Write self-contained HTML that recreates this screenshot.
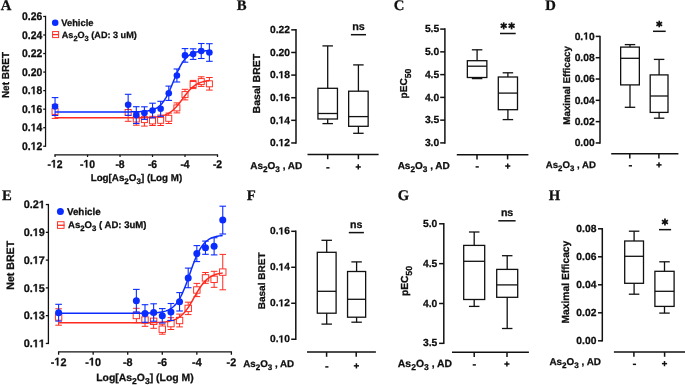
<!DOCTYPE html>
<html><head><meta charset="utf-8"><style>
html,body{margin:0;padding:0;background:#fff;width:685px;height:385px;overflow:hidden;}
svg{display:block;will-change:transform;}
</style></head><body>
<svg width="685" height="385" viewBox="0 0 685 385" xmlns="http://www.w3.org/2000/svg">
<rect width="685" height="385" fill="#fff"/>
<text x="0.67" y="9.92" font-family="Liberation Serif" font-weight="bold" font-size="14.700" fill="#111" text-rendering="geometricPrecision" stroke="#000" stroke-width="0.25">A</text>
<line x1="45.55" y1="15.82" x2="45.55" y2="146.88" stroke="#111" stroke-width="1.25" stroke-linecap="butt"/>
<line x1="43.20" y1="16.45" x2="45.55" y2="16.45" stroke="#111" stroke-width="1.25" stroke-linecap="butt"/>
<text transform="translate(22.06,20.06) scale(1.0,1.07)" font-family="Liberation Sans" font-weight="bold" font-size="10.40" text-anchor="start" fill="#111" text-rendering="geometricPrecision" stroke="#000" stroke-width="0.25" >0.26</text>
<line x1="43.20" y1="34.99" x2="45.55" y2="34.99" stroke="#111" stroke-width="1.25" stroke-linecap="butt"/>
<text transform="translate(22.06,38.60) scale(1.0,1.07)" font-family="Liberation Sans" font-weight="bold" font-size="10.40" text-anchor="start" fill="#111" text-rendering="geometricPrecision" stroke="#000" stroke-width="0.25" >0.24</text>
<line x1="43.20" y1="53.54" x2="45.55" y2="53.54" stroke="#111" stroke-width="1.25" stroke-linecap="butt"/>
<text transform="translate(22.06,57.14) scale(1.0,1.07)" font-family="Liberation Sans" font-weight="bold" font-size="10.40" text-anchor="start" fill="#111" text-rendering="geometricPrecision" stroke="#000" stroke-width="0.25" >0.22</text>
<line x1="43.20" y1="72.08" x2="45.55" y2="72.08" stroke="#111" stroke-width="1.25" stroke-linecap="butt"/>
<text transform="translate(22.06,75.68) scale(1.0,1.07)" font-family="Liberation Sans" font-weight="bold" font-size="10.40" text-anchor="start" fill="#111" text-rendering="geometricPrecision" stroke="#000" stroke-width="0.25" >0.20</text>
<line x1="43.20" y1="90.62" x2="45.55" y2="90.62" stroke="#111" stroke-width="1.25" stroke-linecap="butt"/>
<text transform="translate(22.06,94.23) scale(1.0,1.07)" font-family="Liberation Sans" font-weight="bold" font-size="10.40" text-anchor="start" fill="#111" text-rendering="geometricPrecision" stroke="#000" stroke-width="0.25" >0. 8</text>
<path transform="translate(30.732,94.228) scale(0.005078,-0.005434)" d="M478,0L478,1170L140,959L140,1180L493,1409L759,1409L759,0Z" fill="#111" stroke="#000" stroke-width="49.2"/>
<line x1="43.20" y1="109.16" x2="45.55" y2="109.16" stroke="#111" stroke-width="1.25" stroke-linecap="butt"/>
<text transform="translate(22.06,112.77) scale(1.0,1.07)" font-family="Liberation Sans" font-weight="bold" font-size="10.40" text-anchor="start" fill="#111" text-rendering="geometricPrecision" stroke="#000" stroke-width="0.25" >0. 6</text>
<path transform="translate(30.732,112.770) scale(0.005078,-0.005434)" d="M478,0L478,1170L140,959L140,1180L493,1409L759,1409L759,0Z" fill="#111" stroke="#000" stroke-width="49.2"/>
<line x1="43.20" y1="127.71" x2="45.55" y2="127.71" stroke="#111" stroke-width="1.25" stroke-linecap="butt"/>
<text transform="translate(22.06,131.31) scale(1.0,1.07)" font-family="Liberation Sans" font-weight="bold" font-size="10.40" text-anchor="start" fill="#111" text-rendering="geometricPrecision" stroke="#000" stroke-width="0.25" >0. 4</text>
<path transform="translate(30.732,131.313) scale(0.005078,-0.005434)" d="M478,0L478,1170L140,959L140,1180L493,1409L759,1409L759,0Z" fill="#111" stroke="#000" stroke-width="49.2"/>
<line x1="43.20" y1="146.25" x2="45.55" y2="146.25" stroke="#111" stroke-width="1.25" stroke-linecap="butt"/>
<text transform="translate(22.06,149.86) scale(1.0,1.07)" font-family="Liberation Sans" font-weight="bold" font-size="10.40" text-anchor="start" fill="#111" text-rendering="geometricPrecision" stroke="#000" stroke-width="0.25" >0. 2</text>
<path transform="translate(30.732,149.856) scale(0.005078,-0.005434)" d="M478,0L478,1170L140,959L140,1180L493,1409L759,1409L759,0Z" fill="#111" stroke="#000" stroke-width="49.2"/>
<line x1="54.42" y1="154.80" x2="218.12" y2="154.80" stroke="#111" stroke-width="1.25" stroke-linecap="butt"/>
<line x1="55.05" y1="154.80" x2="55.05" y2="157.00" stroke="#111" stroke-width="1.25" stroke-linecap="butt"/>
<text transform="translate(47.53,167.60) scale(1.0,1.07)" font-family="Liberation Sans" font-weight="bold" font-size="10.40" text-anchor="start" fill="#111" text-rendering="geometricPrecision" stroke="#000" stroke-width="0.25" >- 2</text>
<path transform="translate(50.998,167.600) scale(0.005078,-0.005434)" d="M478,0L478,1170L140,959L140,1180L493,1409L759,1409L759,0Z" fill="#111" stroke="#000" stroke-width="49.2"/>
<line x1="87.54" y1="154.80" x2="87.54" y2="157.00" stroke="#111" stroke-width="1.25" stroke-linecap="butt"/>
<text transform="translate(80.02,167.60) scale(1.0,1.07)" font-family="Liberation Sans" font-weight="bold" font-size="10.40" text-anchor="start" fill="#111" text-rendering="geometricPrecision" stroke="#000" stroke-width="0.25" >- 0</text>
<path transform="translate(83.488,167.600) scale(0.005078,-0.005434)" d="M478,0L478,1170L140,959L140,1180L493,1409L759,1409L759,0Z" fill="#111" stroke="#000" stroke-width="49.2"/>
<line x1="120.03" y1="154.80" x2="120.03" y2="157.00" stroke="#111" stroke-width="1.25" stroke-linecap="butt"/>
<text transform="translate(115.41,167.60) scale(1.0,1.07)" font-family="Liberation Sans" font-weight="bold" font-size="10.40" text-anchor="start" fill="#111" text-rendering="geometricPrecision" stroke="#000" stroke-width="0.25" >-8</text>
<line x1="152.52" y1="154.80" x2="152.52" y2="157.00" stroke="#111" stroke-width="1.25" stroke-linecap="butt"/>
<text transform="translate(147.90,167.60) scale(1.0,1.07)" font-family="Liberation Sans" font-weight="bold" font-size="10.40" text-anchor="start" fill="#111" text-rendering="geometricPrecision" stroke="#000" stroke-width="0.25" >-6</text>
<line x1="185.01" y1="154.80" x2="185.01" y2="157.00" stroke="#111" stroke-width="1.25" stroke-linecap="butt"/>
<text transform="translate(180.39,167.60) scale(1.0,1.07)" font-family="Liberation Sans" font-weight="bold" font-size="10.40" text-anchor="start" fill="#111" text-rendering="geometricPrecision" stroke="#000" stroke-width="0.25" >-4</text>
<line x1="217.50" y1="154.80" x2="217.50" y2="157.00" stroke="#111" stroke-width="1.25" stroke-linecap="butt"/>
<text transform="translate(212.88,167.60) scale(1.0,1.07)" font-family="Liberation Sans" font-weight="bold" font-size="10.40" text-anchor="start" fill="#111" text-rendering="geometricPrecision" stroke="#000" stroke-width="0.25" >-2</text>
<text x="90.68" y="181.24" font-family="Liberation Sans" font-weight="bold" font-size="9.796" fill="#111" text-rendering="geometricPrecision" stroke="#000" stroke-width="0.25">Log[As<tspan font-size="8.03" dy="3.13">2</tspan><tspan dy="-3.13">O</tspan><tspan font-size="8.03" dy="3.13">3</tspan><tspan dy="-3.13">] (Log M)</tspan></text>
<text transform="translate(8.56,98.11) rotate(-90) scale(1,1.0153435136478743)" font-family="Liberation Sans" font-weight="bold" font-size="10.016" fill="#111" text-rendering="geometricPrecision" stroke="#000" stroke-width="0.25">Net BRET</text>
<circle cx="55.20" cy="22.80" r="3.3" fill="#0a2cff"/>
<text x="61.24" y="25.69" font-family="Liberation Sans" font-weight="bold" font-size="9.360" fill="#111" text-rendering="geometricPrecision" stroke="#000" stroke-width="0.25">Vehicle</text>
<rect x="52.60" y="31.60" width="6.0" height="6.0" fill="none" stroke="#ff2a1f" stroke-width="0.95"/>
<line x1="52.60" y1="34.60" x2="58.60" y2="34.60" stroke="#ff2a1f" stroke-width="1.3" stroke-linecap="butt"/>
<text x="61.76" y="37.76" font-family="Liberation Sans" font-weight="bold" font-size="9.103" fill="#111" text-rendering="geometricPrecision" stroke="#000" stroke-width="0.25">As<tspan font-size="7.46" dy="2.91">2</tspan><tspan dy="-2.91">O</tspan><tspan font-size="7.46" dy="2.91">3</tspan><tspan dy="-2.91"> (AD: 3 uM)</tspan></text>
<line x1="55.05" y1="104.40" x2="55.05" y2="108.40" stroke="#ff2a1f" stroke-width="1.0" stroke-linecap="butt"/>
<line x1="55.05" y1="114.40" x2="55.05" y2="118.40" stroke="#ff2a1f" stroke-width="1.0" stroke-linecap="butt"/>
<line x1="51.75" y1="104.40" x2="58.35" y2="104.40" stroke="#ff2a1f" stroke-width="1.0" stroke-linecap="butt"/>
<line x1="51.75" y1="118.40" x2="58.35" y2="118.40" stroke="#ff2a1f" stroke-width="1.0" stroke-linecap="butt"/>
<line x1="128.15" y1="103.70" x2="128.15" y2="109.50" stroke="#ff2a1f" stroke-width="1.0" stroke-linecap="butt"/>
<line x1="128.15" y1="115.50" x2="128.15" y2="121.30" stroke="#ff2a1f" stroke-width="1.0" stroke-linecap="butt"/>
<line x1="124.85" y1="103.70" x2="131.45" y2="103.70" stroke="#ff2a1f" stroke-width="1.0" stroke-linecap="butt"/>
<line x1="124.85" y1="121.30" x2="131.45" y2="121.30" stroke="#ff2a1f" stroke-width="1.0" stroke-linecap="butt"/>
<line x1="136.28" y1="112.80" x2="136.28" y2="116.00" stroke="#ff2a1f" stroke-width="1.0" stroke-linecap="butt"/>
<line x1="136.28" y1="122.00" x2="136.28" y2="125.20" stroke="#ff2a1f" stroke-width="1.0" stroke-linecap="butt"/>
<line x1="132.97" y1="112.80" x2="139.58" y2="112.80" stroke="#ff2a1f" stroke-width="1.0" stroke-linecap="butt"/>
<line x1="132.97" y1="125.20" x2="139.58" y2="125.20" stroke="#ff2a1f" stroke-width="1.0" stroke-linecap="butt"/>
<line x1="144.40" y1="113.10" x2="144.40" y2="116.60" stroke="#ff2a1f" stroke-width="1.0" stroke-linecap="butt"/>
<line x1="144.40" y1="122.60" x2="144.40" y2="126.10" stroke="#ff2a1f" stroke-width="1.0" stroke-linecap="butt"/>
<line x1="141.10" y1="113.10" x2="147.70" y2="113.10" stroke="#ff2a1f" stroke-width="1.0" stroke-linecap="butt"/>
<line x1="141.10" y1="126.10" x2="147.70" y2="126.10" stroke="#ff2a1f" stroke-width="1.0" stroke-linecap="butt"/>
<line x1="152.52" y1="116.30" x2="152.52" y2="117.90" stroke="#ff2a1f" stroke-width="1.0" stroke-linecap="butt"/>
<line x1="152.52" y1="123.90" x2="152.52" y2="125.50" stroke="#ff2a1f" stroke-width="1.0" stroke-linecap="butt"/>
<line x1="149.22" y1="116.30" x2="155.82" y2="116.30" stroke="#ff2a1f" stroke-width="1.0" stroke-linecap="butt"/>
<line x1="149.22" y1="125.50" x2="155.82" y2="125.50" stroke="#ff2a1f" stroke-width="1.0" stroke-linecap="butt"/>
<line x1="160.64" y1="115.10" x2="160.64" y2="117.30" stroke="#ff2a1f" stroke-width="1.0" stroke-linecap="butt"/>
<line x1="160.64" y1="123.30" x2="160.64" y2="125.50" stroke="#ff2a1f" stroke-width="1.0" stroke-linecap="butt"/>
<line x1="157.34" y1="115.10" x2="163.94" y2="115.10" stroke="#ff2a1f" stroke-width="1.0" stroke-linecap="butt"/>
<line x1="157.34" y1="125.50" x2="163.94" y2="125.50" stroke="#ff2a1f" stroke-width="1.0" stroke-linecap="butt"/>
<line x1="168.76" y1="113.10" x2="168.76" y2="115.30" stroke="#ff2a1f" stroke-width="1.0" stroke-linecap="butt"/>
<line x1="168.76" y1="121.30" x2="168.76" y2="123.50" stroke="#ff2a1f" stroke-width="1.0" stroke-linecap="butt"/>
<line x1="165.46" y1="113.10" x2="172.06" y2="113.10" stroke="#ff2a1f" stroke-width="1.0" stroke-linecap="butt"/>
<line x1="165.46" y1="123.50" x2="172.06" y2="123.50" stroke="#ff2a1f" stroke-width="1.0" stroke-linecap="butt"/>
<line x1="176.89" y1="102.90" x2="176.89" y2="104.90" stroke="#ff2a1f" stroke-width="1.0" stroke-linecap="butt"/>
<line x1="176.89" y1="110.90" x2="176.89" y2="112.90" stroke="#ff2a1f" stroke-width="1.0" stroke-linecap="butt"/>
<line x1="173.59" y1="102.90" x2="180.19" y2="102.90" stroke="#ff2a1f" stroke-width="1.0" stroke-linecap="butt"/>
<line x1="173.59" y1="112.90" x2="180.19" y2="112.90" stroke="#ff2a1f" stroke-width="1.0" stroke-linecap="butt"/>
<line x1="185.01" y1="89.30" x2="185.01" y2="91.60" stroke="#ff2a1f" stroke-width="1.0" stroke-linecap="butt"/>
<line x1="185.01" y1="97.60" x2="185.01" y2="99.90" stroke="#ff2a1f" stroke-width="1.0" stroke-linecap="butt"/>
<line x1="181.71" y1="89.30" x2="188.31" y2="89.30" stroke="#ff2a1f" stroke-width="1.0" stroke-linecap="butt"/>
<line x1="181.71" y1="99.90" x2="188.31" y2="99.90" stroke="#ff2a1f" stroke-width="1.0" stroke-linecap="butt"/>
<line x1="193.13" y1="80.40" x2="193.13" y2="81.50" stroke="#ff2a1f" stroke-width="1.0" stroke-linecap="butt"/>
<line x1="193.13" y1="87.50" x2="193.13" y2="88.60" stroke="#ff2a1f" stroke-width="1.0" stroke-linecap="butt"/>
<line x1="189.83" y1="80.40" x2="196.43" y2="80.40" stroke="#ff2a1f" stroke-width="1.0" stroke-linecap="butt"/>
<line x1="189.83" y1="88.60" x2="196.43" y2="88.60" stroke="#ff2a1f" stroke-width="1.0" stroke-linecap="butt"/>
<line x1="201.25" y1="76.80" x2="201.25" y2="78.60" stroke="#ff2a1f" stroke-width="1.0" stroke-linecap="butt"/>
<line x1="201.25" y1="84.60" x2="201.25" y2="86.40" stroke="#ff2a1f" stroke-width="1.0" stroke-linecap="butt"/>
<line x1="197.95" y1="76.80" x2="204.56" y2="76.80" stroke="#ff2a1f" stroke-width="1.0" stroke-linecap="butt"/>
<line x1="197.95" y1="86.40" x2="204.56" y2="86.40" stroke="#ff2a1f" stroke-width="1.0" stroke-linecap="butt"/>
<line x1="209.38" y1="77.50" x2="209.38" y2="80.80" stroke="#ff2a1f" stroke-width="1.0" stroke-linecap="butt"/>
<line x1="209.38" y1="86.80" x2="209.38" y2="90.10" stroke="#ff2a1f" stroke-width="1.0" stroke-linecap="butt"/>
<line x1="206.08" y1="77.50" x2="212.68" y2="77.50" stroke="#ff2a1f" stroke-width="1.0" stroke-linecap="butt"/>
<line x1="206.08" y1="90.10" x2="212.68" y2="90.10" stroke="#ff2a1f" stroke-width="1.0" stroke-linecap="butt"/>
<polyline points="55.05,117.85 55.82,117.85 56.59,117.85 57.36,117.85 58.14,117.85 58.91,117.85 59.68,117.85 60.45,117.85 61.22,117.85 61.99,117.85 62.77,117.85 63.54,117.85 64.31,117.85 65.08,117.85 65.85,117.85 66.62,117.85 67.40,117.85 68.17,117.85 68.94,117.85 69.71,117.85 70.48,117.85 71.25,117.85 72.03,117.85 72.80,117.85 73.57,117.85 74.34,117.85 75.11,117.85 75.88,117.85 76.66,117.85 77.43,117.85 78.20,117.85 78.97,117.85 79.74,117.85 80.51,117.85 81.29,117.85 82.06,117.85 82.83,117.85 83.60,117.85 84.37,117.85 85.14,117.85 85.92,117.85 86.69,117.85 87.46,117.85 88.23,117.85 89.00,117.85 89.77,117.85 90.55,117.85 91.32,117.85 92.09,117.85 92.86,117.85 93.63,117.85 94.40,117.85 95.18,117.85 95.95,117.85 96.72,117.85 97.49,117.85 98.26,117.85 99.03,117.85 99.80,117.85 100.58,117.85 101.35,117.85 102.12,117.85 102.89,117.85 103.66,117.85 104.43,117.85 105.21,117.85 105.98,117.85 106.75,117.85 107.52,117.85 108.29,117.85 109.06,117.85 109.84,117.85 110.61,117.85 111.38,117.85 112.15,117.85 112.92,117.85 113.69,117.85 114.47,117.85 115.24,117.85 116.01,117.85 116.78,117.85 117.55,117.85 118.32,117.85 119.10,117.85 119.87,117.84 120.64,117.84 121.41,117.84 122.18,117.84 122.95,117.84 123.73,117.84 124.50,117.84 125.27,117.84 126.04,117.84 126.81,117.84 127.58,117.83 128.36,117.83 129.13,117.83 129.90,117.83 130.67,117.83 131.44,117.82 132.21,117.82 132.99,117.82 133.76,117.81 134.53,117.81 135.30,117.80 136.07,117.80 136.84,117.79 137.62,117.79 138.39,117.78 139.16,117.77 139.93,117.76 140.70,117.75 141.47,117.74 142.25,117.73 143.02,117.71 143.79,117.70 144.56,117.68 145.33,117.66 146.10,117.64 146.87,117.61 147.65,117.58 148.42,117.55 149.19,117.52 149.96,117.48 150.73,117.44 151.50,117.39 152.28,117.34 153.05,117.28 153.82,117.22 154.59,117.15 155.36,117.07 156.13,116.98 156.91,116.88 157.68,116.77 158.45,116.65 159.22,116.52 159.99,116.37 160.76,116.20 161.54,116.02 162.31,115.82 163.08,115.60 163.85,115.36 164.62,115.09 165.39,114.80 166.17,114.48 166.94,114.12 167.71,113.74 168.48,113.32 169.25,112.87 170.02,112.37 170.80,111.84 171.57,111.26 172.34,110.64 173.11,109.98 173.88,109.28 174.65,108.53 175.43,107.74 176.20,106.90 176.97,106.03 177.74,105.12 178.51,104.17 179.28,103.20 180.06,102.20 180.83,101.18 181.60,100.14 182.37,99.10 183.14,98.06 183.91,97.02 184.69,95.99 185.46,94.98 186.23,93.99 187.00,93.03 187.77,92.09 188.54,91.20 189.31,90.34 190.09,89.52 190.86,88.75 191.63,88.01 192.40,87.32 193.17,86.68 193.94,86.08 194.72,85.52 195.49,85.00 196.26,84.52 197.03,84.08 197.80,83.68 198.57,83.30 199.35,82.96 200.12,82.65 200.89,82.37 201.66,82.11 202.43,81.88 203.20,81.67 203.98,81.47 204.75,81.30 205.52,81.14 206.29,81.00 207.06,80.87 207.83,80.75 208.61,80.65 209.38,80.56" fill="none" stroke="#ff2a1f" stroke-width="1.5"/>
<rect x="52.05" y="108.40" width="6.0" height="6.0" fill="none" stroke="#ff2a1f" stroke-width="0.95"/>
<rect x="125.15" y="109.50" width="6.0" height="6.0" fill="none" stroke="#ff2a1f" stroke-width="0.95"/>
<rect x="133.28" y="116.00" width="6.0" height="6.0" fill="none" stroke="#ff2a1f" stroke-width="0.95"/>
<rect x="141.40" y="116.60" width="6.0" height="6.0" fill="none" stroke="#ff2a1f" stroke-width="0.95"/>
<rect x="149.52" y="117.90" width="6.0" height="6.0" fill="none" stroke="#ff2a1f" stroke-width="0.95"/>
<rect x="157.64" y="117.30" width="6.0" height="6.0" fill="none" stroke="#ff2a1f" stroke-width="0.95"/>
<rect x="165.76" y="115.30" width="6.0" height="6.0" fill="none" stroke="#ff2a1f" stroke-width="0.95"/>
<rect x="173.89" y="104.90" width="6.0" height="6.0" fill="none" stroke="#ff2a1f" stroke-width="0.95"/>
<rect x="182.01" y="91.60" width="6.0" height="6.0" fill="none" stroke="#ff2a1f" stroke-width="0.95"/>
<rect x="190.13" y="81.50" width="6.0" height="6.0" fill="none" stroke="#ff2a1f" stroke-width="0.95"/>
<rect x="198.25" y="78.60" width="6.0" height="6.0" fill="none" stroke="#ff2a1f" stroke-width="0.95"/>
<rect x="206.38" y="80.80" width="6.0" height="6.0" fill="none" stroke="#ff2a1f" stroke-width="0.95"/>
<line x1="55.05" y1="97.60" x2="55.05" y2="115.50" stroke="#0a2cff" stroke-width="1.1" stroke-linecap="butt"/>
<line x1="51.75" y1="97.60" x2="58.35" y2="97.60" stroke="#0a2cff" stroke-width="1.1" stroke-linecap="butt"/>
<line x1="51.75" y1="115.50" x2="58.35" y2="115.50" stroke="#0a2cff" stroke-width="1.1" stroke-linecap="butt"/>
<line x1="128.15" y1="94.30" x2="128.15" y2="115.30" stroke="#0a2cff" stroke-width="1.1" stroke-linecap="butt"/>
<line x1="124.85" y1="94.30" x2="131.45" y2="94.30" stroke="#0a2cff" stroke-width="1.1" stroke-linecap="butt"/>
<line x1="124.85" y1="115.30" x2="131.45" y2="115.30" stroke="#0a2cff" stroke-width="1.1" stroke-linecap="butt"/>
<line x1="136.28" y1="106.70" x2="136.28" y2="123.50" stroke="#0a2cff" stroke-width="1.1" stroke-linecap="butt"/>
<line x1="132.97" y1="106.70" x2="139.58" y2="106.70" stroke="#0a2cff" stroke-width="1.1" stroke-linecap="butt"/>
<line x1="132.97" y1="123.50" x2="139.58" y2="123.50" stroke="#0a2cff" stroke-width="1.1" stroke-linecap="butt"/>
<line x1="144.40" y1="106.80" x2="144.40" y2="119.40" stroke="#0a2cff" stroke-width="1.1" stroke-linecap="butt"/>
<line x1="141.10" y1="106.80" x2="147.70" y2="106.80" stroke="#0a2cff" stroke-width="1.1" stroke-linecap="butt"/>
<line x1="141.10" y1="119.40" x2="147.70" y2="119.40" stroke="#0a2cff" stroke-width="1.1" stroke-linecap="butt"/>
<line x1="152.52" y1="103.20" x2="152.52" y2="117.80" stroke="#0a2cff" stroke-width="1.1" stroke-linecap="butt"/>
<line x1="149.22" y1="103.20" x2="155.82" y2="103.20" stroke="#0a2cff" stroke-width="1.1" stroke-linecap="butt"/>
<line x1="149.22" y1="117.80" x2="155.82" y2="117.80" stroke="#0a2cff" stroke-width="1.1" stroke-linecap="butt"/>
<line x1="160.64" y1="101.30" x2="160.64" y2="116.30" stroke="#0a2cff" stroke-width="1.1" stroke-linecap="butt"/>
<line x1="157.34" y1="101.30" x2="163.94" y2="101.30" stroke="#0a2cff" stroke-width="1.1" stroke-linecap="butt"/>
<line x1="157.34" y1="116.30" x2="163.94" y2="116.30" stroke="#0a2cff" stroke-width="1.1" stroke-linecap="butt"/>
<line x1="168.76" y1="86.10" x2="168.76" y2="100.40" stroke="#0a2cff" stroke-width="1.1" stroke-linecap="butt"/>
<line x1="165.46" y1="86.10" x2="172.06" y2="86.10" stroke="#0a2cff" stroke-width="1.1" stroke-linecap="butt"/>
<line x1="165.46" y1="100.40" x2="172.06" y2="100.40" stroke="#0a2cff" stroke-width="1.1" stroke-linecap="butt"/>
<line x1="176.89" y1="69.00" x2="176.89" y2="82.00" stroke="#0a2cff" stroke-width="1.1" stroke-linecap="butt"/>
<line x1="173.59" y1="69.00" x2="180.19" y2="69.00" stroke="#0a2cff" stroke-width="1.1" stroke-linecap="butt"/>
<line x1="173.59" y1="82.00" x2="180.19" y2="82.00" stroke="#0a2cff" stroke-width="1.1" stroke-linecap="butt"/>
<line x1="185.01" y1="48.60" x2="185.01" y2="62.20" stroke="#0a2cff" stroke-width="1.1" stroke-linecap="butt"/>
<line x1="181.71" y1="48.60" x2="188.31" y2="48.60" stroke="#0a2cff" stroke-width="1.1" stroke-linecap="butt"/>
<line x1="181.71" y1="62.20" x2="188.31" y2="62.20" stroke="#0a2cff" stroke-width="1.1" stroke-linecap="butt"/>
<line x1="193.13" y1="48.80" x2="193.13" y2="59.40" stroke="#0a2cff" stroke-width="1.1" stroke-linecap="butt"/>
<line x1="189.83" y1="48.80" x2="196.43" y2="48.80" stroke="#0a2cff" stroke-width="1.1" stroke-linecap="butt"/>
<line x1="189.83" y1="59.40" x2="196.43" y2="59.40" stroke="#0a2cff" stroke-width="1.1" stroke-linecap="butt"/>
<line x1="201.25" y1="43.50" x2="201.25" y2="58.50" stroke="#0a2cff" stroke-width="1.1" stroke-linecap="butt"/>
<line x1="197.95" y1="43.50" x2="204.56" y2="43.50" stroke="#0a2cff" stroke-width="1.1" stroke-linecap="butt"/>
<line x1="197.95" y1="58.50" x2="204.56" y2="58.50" stroke="#0a2cff" stroke-width="1.1" stroke-linecap="butt"/>
<line x1="209.38" y1="43.70" x2="209.38" y2="61.30" stroke="#0a2cff" stroke-width="1.1" stroke-linecap="butt"/>
<line x1="206.08" y1="43.70" x2="212.68" y2="43.70" stroke="#0a2cff" stroke-width="1.1" stroke-linecap="butt"/>
<line x1="206.08" y1="61.30" x2="212.68" y2="61.30" stroke="#0a2cff" stroke-width="1.1" stroke-linecap="butt"/>
<polyline points="55.05,111.95 55.82,111.95 56.59,111.95 57.36,111.95 58.14,111.95 58.91,111.95 59.68,111.95 60.45,111.95 61.22,111.95 61.99,111.95 62.77,111.95 63.54,111.95 64.31,111.95 65.08,111.95 65.85,111.95 66.62,111.95 67.40,111.95 68.17,111.95 68.94,111.95 69.71,111.95 70.48,111.95 71.25,111.95 72.03,111.95 72.80,111.95 73.57,111.95 74.34,111.95 75.11,111.95 75.88,111.95 76.66,111.95 77.43,111.95 78.20,111.95 78.97,111.95 79.74,111.95 80.51,111.95 81.29,111.95 82.06,111.95 82.83,111.95 83.60,111.95 84.37,111.95 85.14,111.95 85.92,111.95 86.69,111.95 87.46,111.95 88.23,111.95 89.00,111.95 89.77,111.95 90.55,111.95 91.32,111.95 92.09,111.95 92.86,111.95 93.63,111.95 94.40,111.95 95.18,111.95 95.95,111.95 96.72,111.95 97.49,111.95 98.26,111.95 99.03,111.95 99.80,111.95 100.58,111.95 101.35,111.95 102.12,111.95 102.89,111.95 103.66,111.95 104.43,111.95 105.21,111.95 105.98,111.95 106.75,111.95 107.52,111.95 108.29,111.95 109.06,111.95 109.84,111.95 110.61,111.95 111.38,111.95 112.15,111.95 112.92,111.95 113.69,111.95 114.47,111.94 115.24,111.94 116.01,111.94 116.78,111.94 117.55,111.94 118.32,111.94 119.10,111.94 119.87,111.94 120.64,111.94 121.41,111.93 122.18,111.93 122.95,111.93 123.73,111.93 124.50,111.92 125.27,111.92 126.04,111.92 126.81,111.91 127.58,111.91 128.36,111.90 129.13,111.90 129.90,111.89 130.67,111.88 131.44,111.87 132.21,111.86 132.99,111.85 133.76,111.84 134.53,111.82 135.30,111.81 136.07,111.79 136.84,111.77 137.62,111.75 138.39,111.72 139.16,111.69 139.93,111.66 140.70,111.62 141.47,111.57 142.25,111.53 143.02,111.47 143.79,111.41 144.56,111.34 145.33,111.26 146.10,111.17 146.87,111.07 147.65,110.96 148.42,110.83 149.19,110.69 149.96,110.53 150.73,110.34 151.50,110.14 152.28,109.91 153.05,109.66 153.82,109.37 154.59,109.05 155.36,108.69 156.13,108.29 156.91,107.85 157.68,107.35 158.45,106.80 159.22,106.19 159.99,105.52 160.76,104.78 161.54,103.97 162.31,103.08 163.08,102.11 163.85,101.05 164.62,99.91 165.39,98.67 166.17,97.35 166.94,95.95 167.71,94.45 168.48,92.88 169.25,91.23 170.02,89.51 170.80,87.74 171.57,85.92 172.34,84.06 173.11,82.19 173.88,80.30 174.65,78.43 175.43,76.57 176.20,74.75 176.97,72.97 177.74,71.25 178.51,69.60 179.28,68.03 180.06,66.53 180.83,65.12 181.60,63.80 182.37,62.56 183.14,61.42 183.91,60.36 184.69,59.38 185.46,58.49 186.23,57.67 187.00,56.93 187.77,56.26 188.54,55.64 189.31,55.09 190.09,54.60 190.86,54.15 191.63,53.75 192.40,53.39 193.17,53.07 193.94,52.78 194.72,52.52 195.49,52.30 196.26,52.09 197.03,51.91 197.80,51.75 198.57,51.60 199.35,51.48 200.12,51.36 200.89,51.26 201.66,51.17 202.43,51.09 203.20,51.02 203.98,50.96 204.75,50.91 205.52,50.86 206.29,50.81 207.06,50.78 207.83,50.74 208.61,50.71 209.38,50.69" fill="none" stroke="#0a2cff" stroke-width="1.5"/>
<circle cx="55.05" cy="106.55" r="3.3" fill="#0a2cff"/>
<circle cx="128.15" cy="104.80" r="3.3" fill="#0a2cff"/>
<circle cx="136.28" cy="115.10" r="3.3" fill="#0a2cff"/>
<circle cx="144.40" cy="113.10" r="3.3" fill="#0a2cff"/>
<circle cx="152.52" cy="110.50" r="3.3" fill="#0a2cff"/>
<circle cx="160.64" cy="108.80" r="3.3" fill="#0a2cff"/>
<circle cx="168.76" cy="93.25" r="3.3" fill="#0a2cff"/>
<circle cx="176.89" cy="75.50" r="3.3" fill="#0a2cff"/>
<circle cx="185.01" cy="55.40" r="3.3" fill="#0a2cff"/>
<circle cx="193.13" cy="54.10" r="3.3" fill="#0a2cff"/>
<circle cx="201.25" cy="51.00" r="3.3" fill="#0a2cff"/>
<circle cx="209.38" cy="52.50" r="3.3" fill="#0a2cff"/>
<text x="1.88" y="199.83" font-family="Liberation Serif" font-weight="bold" font-size="14.700" fill="#111" text-rendering="geometricPrecision" stroke="#000" stroke-width="0.25">E</text>
<line x1="48.40" y1="203.90" x2="48.40" y2="344.10" stroke="#111" stroke-width="1.3" stroke-linecap="butt"/>
<line x1="45.80" y1="204.55" x2="48.40" y2="204.55" stroke="#111" stroke-width="1.3" stroke-linecap="butt"/>
<text transform="translate(23.69,208.31) scale(1.0,1.01)" font-family="Liberation Sans" font-weight="bold" font-size="10.90" text-anchor="start" fill="#111" text-rendering="geometricPrecision" stroke="#000" stroke-width="0.25" >0.2 </text>
<path transform="translate(38.838,208.313) scale(0.005322,-0.005375)" d="M478,0L478,1170L140,959L140,1180L493,1409L759,1409L759,0Z" fill="#111" stroke="#000" stroke-width="47.0"/>
<line x1="45.80" y1="232.33" x2="48.40" y2="232.33" stroke="#111" stroke-width="1.3" stroke-linecap="butt"/>
<text transform="translate(23.69,236.09) scale(1.0,1.01)" font-family="Liberation Sans" font-weight="bold" font-size="10.90" text-anchor="start" fill="#111" text-rendering="geometricPrecision" stroke="#000" stroke-width="0.25" >0. 9</text>
<path transform="translate(32.776,236.093) scale(0.005322,-0.005375)" d="M478,0L478,1170L140,959L140,1180L493,1409L759,1409L759,0Z" fill="#111" stroke="#000" stroke-width="47.0"/>
<line x1="45.80" y1="260.11" x2="48.40" y2="260.11" stroke="#111" stroke-width="1.3" stroke-linecap="butt"/>
<text transform="translate(23.69,263.87) scale(1.0,1.01)" font-family="Liberation Sans" font-weight="bold" font-size="10.90" text-anchor="start" fill="#111" text-rendering="geometricPrecision" stroke="#000" stroke-width="0.25" >0. 7</text>
<path transform="translate(32.776,263.873) scale(0.005322,-0.005375)" d="M478,0L478,1170L140,959L140,1180L493,1409L759,1409L759,0Z" fill="#111" stroke="#000" stroke-width="47.0"/>
<line x1="45.80" y1="287.89" x2="48.40" y2="287.89" stroke="#111" stroke-width="1.3" stroke-linecap="butt"/>
<text transform="translate(23.69,291.65) scale(1.0,1.01)" font-family="Liberation Sans" font-weight="bold" font-size="10.90" text-anchor="start" fill="#111" text-rendering="geometricPrecision" stroke="#000" stroke-width="0.25" >0. 5</text>
<path transform="translate(32.776,291.653) scale(0.005322,-0.005375)" d="M478,0L478,1170L140,959L140,1180L493,1409L759,1409L759,0Z" fill="#111" stroke="#000" stroke-width="47.0"/>
<line x1="45.80" y1="315.67" x2="48.40" y2="315.67" stroke="#111" stroke-width="1.3" stroke-linecap="butt"/>
<text transform="translate(23.69,319.43) scale(1.0,1.01)" font-family="Liberation Sans" font-weight="bold" font-size="10.90" text-anchor="start" fill="#111" text-rendering="geometricPrecision" stroke="#000" stroke-width="0.25" >0. 3</text>
<path transform="translate(32.776,319.433) scale(0.005322,-0.005375)" d="M478,0L478,1170L140,959L140,1180L493,1409L759,1409L759,0Z" fill="#111" stroke="#000" stroke-width="47.0"/>
<line x1="45.80" y1="343.45" x2="48.40" y2="343.45" stroke="#111" stroke-width="1.3" stroke-linecap="butt"/>
<text transform="translate(23.69,347.21) scale(1.0,1.01)" font-family="Liberation Sans" font-weight="bold" font-size="10.90" text-anchor="start" fill="#111" text-rendering="geometricPrecision" stroke="#000" stroke-width="0.25" >0.  </text>
<path transform="translate(32.776,347.213) scale(0.005322,-0.005375)" d="M478,0L478,1170L140,959L140,1180L493,1409L759,1409L759,0Z" fill="#111" stroke="#000" stroke-width="47.0"/>
<path transform="translate(38.838,347.213) scale(0.005322,-0.005375)" d="M478,0L478,1170L140,959L140,1180L493,1409L759,1409L759,0Z" fill="#111" stroke="#000" stroke-width="47.0"/>
<line x1="57.95" y1="351.95" x2="232.05" y2="351.95" stroke="#111" stroke-width="1.3" stroke-linecap="butt"/>
<line x1="58.60" y1="351.95" x2="58.60" y2="354.75" stroke="#111" stroke-width="1.3" stroke-linecap="butt"/>
<text transform="translate(50.80,365.60) scale(1.0,1.04)" font-family="Liberation Sans" font-weight="bold" font-size="10.80" text-anchor="start" fill="#111" text-rendering="geometricPrecision" stroke="#000" stroke-width="0.25" >- 2</text>
<path transform="translate(54.392,365.600) scale(0.005273,-0.005484)" d="M478,0L478,1170L140,959L140,1180L493,1409L759,1409L759,0Z" fill="#111" stroke="#000" stroke-width="47.4"/>
<line x1="93.16" y1="351.95" x2="93.16" y2="354.75" stroke="#111" stroke-width="1.3" stroke-linecap="butt"/>
<text transform="translate(85.36,365.60) scale(1.0,1.04)" font-family="Liberation Sans" font-weight="bold" font-size="10.80" text-anchor="start" fill="#111" text-rendering="geometricPrecision" stroke="#000" stroke-width="0.25" >- 0</text>
<path transform="translate(88.952,365.600) scale(0.005273,-0.005484)" d="M478,0L478,1170L140,959L140,1180L493,1409L759,1409L759,0Z" fill="#111" stroke="#000" stroke-width="47.4"/>
<line x1="127.72" y1="351.95" x2="127.72" y2="354.75" stroke="#111" stroke-width="1.3" stroke-linecap="butt"/>
<text transform="translate(122.92,365.60) scale(1.0,1.04)" font-family="Liberation Sans" font-weight="bold" font-size="10.80" text-anchor="start" fill="#111" text-rendering="geometricPrecision" stroke="#000" stroke-width="0.25" >-8</text>
<line x1="162.28" y1="351.95" x2="162.28" y2="354.75" stroke="#111" stroke-width="1.3" stroke-linecap="butt"/>
<text transform="translate(157.48,365.60) scale(1.0,1.04)" font-family="Liberation Sans" font-weight="bold" font-size="10.80" text-anchor="start" fill="#111" text-rendering="geometricPrecision" stroke="#000" stroke-width="0.25" >-6</text>
<line x1="196.84" y1="351.95" x2="196.84" y2="354.75" stroke="#111" stroke-width="1.3" stroke-linecap="butt"/>
<text transform="translate(192.04,365.60) scale(1.0,1.04)" font-family="Liberation Sans" font-weight="bold" font-size="10.80" text-anchor="start" fill="#111" text-rendering="geometricPrecision" stroke="#000" stroke-width="0.25" >-4</text>
<line x1="231.40" y1="351.95" x2="231.40" y2="354.75" stroke="#111" stroke-width="1.3" stroke-linecap="butt"/>
<text transform="translate(226.60,365.60) scale(1.0,1.04)" font-family="Liberation Sans" font-weight="bold" font-size="10.80" text-anchor="start" fill="#111" text-rendering="geometricPrecision" stroke="#000" stroke-width="0.25" >-2</text>
<text x="96.20" y="380.52" font-family="Liberation Sans" font-weight="bold" font-size="10.430" fill="#111" text-rendering="geometricPrecision" stroke="#000" stroke-width="0.25">Log[As<tspan font-size="8.55" dy="3.34">2</tspan><tspan dy="-3.34">O</tspan><tspan font-size="8.55" dy="3.34">3</tspan><tspan dy="-3.34">] (Log M)</tspan></text>
<text transform="translate(13.99,289.66) rotate(-90) scale(1,1.0115598539779636)" font-family="Liberation Sans" font-weight="bold" font-size="10.582" fill="#111" text-rendering="geometricPrecision" stroke="#000" stroke-width="0.25">Net BRET</text>
<circle cx="60.40" cy="211.60" r="3.5" fill="#0a2cff"/>
<text x="66.88" y="215.03" font-family="Liberation Sans" font-weight="bold" font-size="9.859" fill="#111" text-rendering="geometricPrecision" stroke="#000" stroke-width="0.25">Vehicle</text>
<rect x="57.45" y="221.75" width="6.6" height="6.6" fill="none" stroke="#ff2a1f" stroke-width="0.95"/>
<line x1="57.20" y1="225.25" x2="64.60" y2="225.25" stroke="#ff2a1f" stroke-width="1.3" stroke-linecap="butt"/>
<text x="68.02" y="228.09" font-family="Liberation Sans" font-weight="bold" font-size="9.564" fill="#111" text-rendering="geometricPrecision" stroke="#000" stroke-width="0.25">As<tspan font-size="7.84" dy="3.06">2</tspan><tspan dy="-3.06">O</tspan><tspan font-size="7.84" dy="3.06">3</tspan><tspan dy="-3.06"> ( AD: 3uM)</tspan></text>
<line x1="58.60" y1="308.80" x2="58.60" y2="313.80" stroke="#ff2a1f" stroke-width="1.0" stroke-linecap="butt"/>
<line x1="58.60" y1="320.20" x2="58.60" y2="325.20" stroke="#ff2a1f" stroke-width="1.0" stroke-linecap="butt"/>
<line x1="55.30" y1="308.80" x2="61.90" y2="308.80" stroke="#ff2a1f" stroke-width="1.0" stroke-linecap="butt"/>
<line x1="55.30" y1="325.20" x2="61.90" y2="325.20" stroke="#ff2a1f" stroke-width="1.0" stroke-linecap="butt"/>
<line x1="136.36" y1="308.30" x2="136.36" y2="312.30" stroke="#ff2a1f" stroke-width="1.0" stroke-linecap="butt"/>
<line x1="136.36" y1="318.70" x2="136.36" y2="322.70" stroke="#ff2a1f" stroke-width="1.0" stroke-linecap="butt"/>
<line x1="133.06" y1="308.30" x2="139.66" y2="308.30" stroke="#ff2a1f" stroke-width="1.0" stroke-linecap="butt"/>
<line x1="133.06" y1="322.70" x2="139.66" y2="322.70" stroke="#ff2a1f" stroke-width="1.0" stroke-linecap="butt"/>
<line x1="145.00" y1="313.70" x2="145.00" y2="316.80" stroke="#ff2a1f" stroke-width="1.0" stroke-linecap="butt"/>
<line x1="145.00" y1="323.20" x2="145.00" y2="326.30" stroke="#ff2a1f" stroke-width="1.0" stroke-linecap="butt"/>
<line x1="141.70" y1="313.70" x2="148.30" y2="313.70" stroke="#ff2a1f" stroke-width="1.0" stroke-linecap="butt"/>
<line x1="141.70" y1="326.30" x2="148.30" y2="326.30" stroke="#ff2a1f" stroke-width="1.0" stroke-linecap="butt"/>
<line x1="153.64" y1="314.30" x2="153.64" y2="318.10" stroke="#ff2a1f" stroke-width="1.0" stroke-linecap="butt"/>
<line x1="153.64" y1="324.50" x2="153.64" y2="328.30" stroke="#ff2a1f" stroke-width="1.0" stroke-linecap="butt"/>
<line x1="150.34" y1="314.30" x2="156.94" y2="314.30" stroke="#ff2a1f" stroke-width="1.0" stroke-linecap="butt"/>
<line x1="150.34" y1="328.30" x2="156.94" y2="328.30" stroke="#ff2a1f" stroke-width="1.0" stroke-linecap="butt"/>
<line x1="162.28" y1="324.20" x2="162.28" y2="326.00" stroke="#ff2a1f" stroke-width="1.0" stroke-linecap="butt"/>
<line x1="162.28" y1="332.40" x2="162.28" y2="334.20" stroke="#ff2a1f" stroke-width="1.0" stroke-linecap="butt"/>
<line x1="158.98" y1="324.20" x2="165.58" y2="324.20" stroke="#ff2a1f" stroke-width="1.0" stroke-linecap="butt"/>
<line x1="158.98" y1="334.20" x2="165.58" y2="334.20" stroke="#ff2a1f" stroke-width="1.0" stroke-linecap="butt"/>
<line x1="170.92" y1="317.70" x2="170.92" y2="320.40" stroke="#ff2a1f" stroke-width="1.0" stroke-linecap="butt"/>
<line x1="170.92" y1="326.80" x2="170.92" y2="329.50" stroke="#ff2a1f" stroke-width="1.0" stroke-linecap="butt"/>
<line x1="167.62" y1="317.70" x2="174.22" y2="317.70" stroke="#ff2a1f" stroke-width="1.0" stroke-linecap="butt"/>
<line x1="167.62" y1="329.50" x2="174.22" y2="329.50" stroke="#ff2a1f" stroke-width="1.0" stroke-linecap="butt"/>
<line x1="179.56" y1="314.10" x2="179.56" y2="317.30" stroke="#ff2a1f" stroke-width="1.0" stroke-linecap="butt"/>
<line x1="179.56" y1="323.70" x2="179.56" y2="326.90" stroke="#ff2a1f" stroke-width="1.0" stroke-linecap="butt"/>
<line x1="176.26" y1="314.10" x2="182.86" y2="314.10" stroke="#ff2a1f" stroke-width="1.0" stroke-linecap="butt"/>
<line x1="176.26" y1="326.90" x2="182.86" y2="326.90" stroke="#ff2a1f" stroke-width="1.0" stroke-linecap="butt"/>
<line x1="188.20" y1="302.20" x2="188.20" y2="305.20" stroke="#ff2a1f" stroke-width="1.0" stroke-linecap="butt"/>
<line x1="188.20" y1="311.60" x2="188.20" y2="314.60" stroke="#ff2a1f" stroke-width="1.0" stroke-linecap="butt"/>
<line x1="184.90" y1="302.20" x2="191.50" y2="302.20" stroke="#ff2a1f" stroke-width="1.0" stroke-linecap="butt"/>
<line x1="184.90" y1="314.60" x2="191.50" y2="314.60" stroke="#ff2a1f" stroke-width="1.0" stroke-linecap="butt"/>
<line x1="196.84" y1="283.40" x2="196.84" y2="286.80" stroke="#ff2a1f" stroke-width="1.0" stroke-linecap="butt"/>
<line x1="196.84" y1="293.20" x2="196.84" y2="296.60" stroke="#ff2a1f" stroke-width="1.0" stroke-linecap="butt"/>
<line x1="193.54" y1="283.40" x2="200.14" y2="283.40" stroke="#ff2a1f" stroke-width="1.0" stroke-linecap="butt"/>
<line x1="193.54" y1="296.60" x2="200.14" y2="296.60" stroke="#ff2a1f" stroke-width="1.0" stroke-linecap="butt"/>
<line x1="205.48" y1="272.50" x2="205.48" y2="274.70" stroke="#ff2a1f" stroke-width="1.0" stroke-linecap="butt"/>
<line x1="205.48" y1="281.10" x2="205.48" y2="283.30" stroke="#ff2a1f" stroke-width="1.0" stroke-linecap="butt"/>
<line x1="202.18" y1="272.50" x2="208.78" y2="272.50" stroke="#ff2a1f" stroke-width="1.0" stroke-linecap="butt"/>
<line x1="202.18" y1="283.30" x2="208.78" y2="283.30" stroke="#ff2a1f" stroke-width="1.0" stroke-linecap="butt"/>
<line x1="214.12" y1="271.30" x2="214.12" y2="276.10" stroke="#ff2a1f" stroke-width="1.0" stroke-linecap="butt"/>
<line x1="214.12" y1="282.50" x2="214.12" y2="287.30" stroke="#ff2a1f" stroke-width="1.0" stroke-linecap="butt"/>
<line x1="210.82" y1="271.30" x2="217.42" y2="271.30" stroke="#ff2a1f" stroke-width="1.0" stroke-linecap="butt"/>
<line x1="210.82" y1="287.30" x2="217.42" y2="287.30" stroke="#ff2a1f" stroke-width="1.0" stroke-linecap="butt"/>
<line x1="222.76" y1="254.40" x2="222.76" y2="268.90" stroke="#ff2a1f" stroke-width="1.0" stroke-linecap="butt"/>
<line x1="222.76" y1="275.30" x2="222.76" y2="289.80" stroke="#ff2a1f" stroke-width="1.0" stroke-linecap="butt"/>
<line x1="219.46" y1="254.40" x2="226.06" y2="254.40" stroke="#ff2a1f" stroke-width="1.0" stroke-linecap="butt"/>
<line x1="219.46" y1="289.80" x2="226.06" y2="289.80" stroke="#ff2a1f" stroke-width="1.0" stroke-linecap="butt"/>
<polyline points="58.60,322.80 59.42,322.80 60.24,322.80 61.06,322.80 61.88,322.80 62.70,322.80 63.52,322.80 64.35,322.80 65.17,322.80 65.99,322.80 66.81,322.80 67.63,322.80 68.45,322.80 69.27,322.80 70.09,322.80 70.91,322.80 71.73,322.80 72.55,322.80 73.37,322.80 74.20,322.80 75.02,322.80 75.84,322.80 76.66,322.80 77.48,322.80 78.30,322.80 79.12,322.80 79.94,322.80 80.76,322.80 81.58,322.80 82.40,322.80 83.22,322.80 84.04,322.80 84.87,322.80 85.69,322.80 86.51,322.80 87.33,322.80 88.15,322.80 88.97,322.80 89.79,322.80 90.61,322.80 91.43,322.80 92.25,322.80 93.07,322.80 93.89,322.80 94.72,322.80 95.54,322.80 96.36,322.80 97.18,322.80 98.00,322.80 98.82,322.80 99.64,322.80 100.46,322.80 101.28,322.80 102.10,322.80 102.92,322.80 103.74,322.80 104.56,322.80 105.39,322.80 106.21,322.80 107.03,322.80 107.85,322.80 108.67,322.80 109.49,322.80 110.31,322.80 111.13,322.80 111.95,322.80 112.77,322.80 113.59,322.80 114.41,322.80 115.24,322.80 116.06,322.80 116.88,322.80 117.70,322.80 118.52,322.80 119.34,322.80 120.16,322.80 120.98,322.80 121.80,322.80 122.62,322.80 123.44,322.80 124.26,322.80 125.08,322.80 125.91,322.80 126.73,322.80 127.55,322.80 128.37,322.79 129.19,322.79 130.01,322.79 130.83,322.79 131.65,322.79 132.47,322.79 133.29,322.79 134.11,322.79 134.93,322.79 135.76,322.79 136.58,322.78 137.40,322.78 138.22,322.78 139.04,322.78 139.86,322.77 140.68,322.77 141.50,322.77 142.32,322.76 143.14,322.76 143.96,322.75 144.78,322.75 145.60,322.74 146.43,322.74 147.25,322.73 148.07,322.72 148.89,322.71 149.71,322.70 150.53,322.69 151.35,322.67 152.17,322.66 152.99,322.64 153.81,322.62 154.63,322.60 155.45,322.58 156.28,322.55 157.10,322.52 157.92,322.48 158.74,322.45 159.56,322.40 160.38,322.35 161.20,322.30 162.02,322.24 162.84,322.17 163.66,322.10 164.48,322.02 165.30,321.92 166.12,321.82 166.95,321.70 167.77,321.57 168.59,321.42 169.41,321.26 170.23,321.08 171.05,320.88 171.87,320.65 172.69,320.40 173.51,320.13 174.33,319.82 175.15,319.48 175.97,319.11 176.80,318.70 177.62,318.24 178.44,317.74 179.26,317.20 180.08,316.60 180.90,315.94 181.72,315.23 182.54,314.47 183.36,313.63 184.18,312.74 185.00,311.78 185.82,310.76 186.64,309.67 187.47,308.53 188.29,307.32 189.11,306.06 189.93,304.75 190.75,303.39 191.57,302.00 192.39,300.58 193.21,299.13 194.03,297.68 194.85,296.23 195.67,294.78 196.49,293.35 197.32,291.95 198.14,290.58 198.96,289.25 199.78,287.97 200.60,286.75 201.42,285.58 202.24,284.48 203.06,283.43 203.88,282.46 204.70,281.54 205.52,280.69 206.34,279.90 207.16,279.17 207.99,278.50 208.81,277.89 209.63,277.32 210.45,276.81 211.27,276.34 212.09,275.92 212.91,275.53 213.73,275.18 214.55,274.86 215.37,274.58 216.19,274.32 217.01,274.09 217.84,273.88 218.66,273.69 219.48,273.53 220.30,273.38 221.12,273.24 221.94,273.12 222.76,273.01" fill="none" stroke="#ff2a1f" stroke-width="1.5"/>
<rect x="55.40" y="313.80" width="6.4" height="6.4" fill="none" stroke="#ff2a1f" stroke-width="0.95"/>
<rect x="133.16" y="312.30" width="6.4" height="6.4" fill="none" stroke="#ff2a1f" stroke-width="0.95"/>
<rect x="141.80" y="316.80" width="6.4" height="6.4" fill="none" stroke="#ff2a1f" stroke-width="0.95"/>
<rect x="150.44" y="318.10" width="6.4" height="6.4" fill="none" stroke="#ff2a1f" stroke-width="0.95"/>
<rect x="159.08" y="326.00" width="6.4" height="6.4" fill="none" stroke="#ff2a1f" stroke-width="0.95"/>
<rect x="167.72" y="320.40" width="6.4" height="6.4" fill="none" stroke="#ff2a1f" stroke-width="0.95"/>
<rect x="176.36" y="317.30" width="6.4" height="6.4" fill="none" stroke="#ff2a1f" stroke-width="0.95"/>
<rect x="185.00" y="305.20" width="6.4" height="6.4" fill="none" stroke="#ff2a1f" stroke-width="0.95"/>
<rect x="193.64" y="286.80" width="6.4" height="6.4" fill="none" stroke="#ff2a1f" stroke-width="0.95"/>
<rect x="202.28" y="274.70" width="6.4" height="6.4" fill="none" stroke="#ff2a1f" stroke-width="0.95"/>
<rect x="210.92" y="276.10" width="6.4" height="6.4" fill="none" stroke="#ff2a1f" stroke-width="0.95"/>
<rect x="219.56" y="268.90" width="6.4" height="6.4" fill="none" stroke="#ff2a1f" stroke-width="0.95"/>
<line x1="58.60" y1="304.30" x2="58.60" y2="321.10" stroke="#0a2cff" stroke-width="1.1" stroke-linecap="butt"/>
<line x1="55.30" y1="304.30" x2="61.90" y2="304.30" stroke="#0a2cff" stroke-width="1.1" stroke-linecap="butt"/>
<line x1="55.30" y1="321.10" x2="61.90" y2="321.10" stroke="#0a2cff" stroke-width="1.1" stroke-linecap="butt"/>
<line x1="136.36" y1="289.40" x2="136.36" y2="312.00" stroke="#0a2cff" stroke-width="1.1" stroke-linecap="butt"/>
<line x1="133.06" y1="289.40" x2="139.66" y2="289.40" stroke="#0a2cff" stroke-width="1.1" stroke-linecap="butt"/>
<line x1="133.06" y1="312.00" x2="139.66" y2="312.00" stroke="#0a2cff" stroke-width="1.1" stroke-linecap="butt"/>
<line x1="145.00" y1="304.70" x2="145.00" y2="322.30" stroke="#0a2cff" stroke-width="1.1" stroke-linecap="butt"/>
<line x1="141.70" y1="304.70" x2="148.30" y2="304.70" stroke="#0a2cff" stroke-width="1.1" stroke-linecap="butt"/>
<line x1="141.70" y1="322.30" x2="148.30" y2="322.30" stroke="#0a2cff" stroke-width="1.1" stroke-linecap="butt"/>
<line x1="153.64" y1="303.80" x2="153.64" y2="321.20" stroke="#0a2cff" stroke-width="1.1" stroke-linecap="butt"/>
<line x1="150.34" y1="303.80" x2="156.94" y2="303.80" stroke="#0a2cff" stroke-width="1.1" stroke-linecap="butt"/>
<line x1="150.34" y1="321.20" x2="156.94" y2="321.20" stroke="#0a2cff" stroke-width="1.1" stroke-linecap="butt"/>
<line x1="162.28" y1="308.60" x2="162.28" y2="323.00" stroke="#0a2cff" stroke-width="1.1" stroke-linecap="butt"/>
<line x1="158.98" y1="308.60" x2="165.58" y2="308.60" stroke="#0a2cff" stroke-width="1.1" stroke-linecap="butt"/>
<line x1="158.98" y1="323.00" x2="165.58" y2="323.00" stroke="#0a2cff" stroke-width="1.1" stroke-linecap="butt"/>
<line x1="170.92" y1="303.50" x2="170.92" y2="320.50" stroke="#0a2cff" stroke-width="1.1" stroke-linecap="butt"/>
<line x1="167.62" y1="303.50" x2="174.22" y2="303.50" stroke="#0a2cff" stroke-width="1.1" stroke-linecap="butt"/>
<line x1="167.62" y1="320.50" x2="174.22" y2="320.50" stroke="#0a2cff" stroke-width="1.1" stroke-linecap="butt"/>
<line x1="179.56" y1="292.60" x2="179.56" y2="311.00" stroke="#0a2cff" stroke-width="1.1" stroke-linecap="butt"/>
<line x1="176.26" y1="292.60" x2="182.86" y2="292.60" stroke="#0a2cff" stroke-width="1.1" stroke-linecap="butt"/>
<line x1="176.26" y1="311.00" x2="182.86" y2="311.00" stroke="#0a2cff" stroke-width="1.1" stroke-linecap="butt"/>
<line x1="188.20" y1="268.10" x2="188.20" y2="287.70" stroke="#0a2cff" stroke-width="1.1" stroke-linecap="butt"/>
<line x1="184.90" y1="268.10" x2="191.50" y2="268.10" stroke="#0a2cff" stroke-width="1.1" stroke-linecap="butt"/>
<line x1="184.90" y1="287.70" x2="191.50" y2="287.70" stroke="#0a2cff" stroke-width="1.1" stroke-linecap="butt"/>
<line x1="196.84" y1="245.60" x2="196.84" y2="261.60" stroke="#0a2cff" stroke-width="1.1" stroke-linecap="butt"/>
<line x1="193.54" y1="245.60" x2="200.14" y2="245.60" stroke="#0a2cff" stroke-width="1.1" stroke-linecap="butt"/>
<line x1="193.54" y1="261.60" x2="200.14" y2="261.60" stroke="#0a2cff" stroke-width="1.1" stroke-linecap="butt"/>
<line x1="205.48" y1="241.10" x2="205.48" y2="254.30" stroke="#0a2cff" stroke-width="1.1" stroke-linecap="butt"/>
<line x1="202.18" y1="241.10" x2="208.78" y2="241.10" stroke="#0a2cff" stroke-width="1.1" stroke-linecap="butt"/>
<line x1="202.18" y1="254.30" x2="208.78" y2="254.30" stroke="#0a2cff" stroke-width="1.1" stroke-linecap="butt"/>
<line x1="214.12" y1="237.70" x2="214.12" y2="254.90" stroke="#0a2cff" stroke-width="1.1" stroke-linecap="butt"/>
<line x1="210.82" y1="237.70" x2="217.42" y2="237.70" stroke="#0a2cff" stroke-width="1.1" stroke-linecap="butt"/>
<line x1="210.82" y1="254.90" x2="217.42" y2="254.90" stroke="#0a2cff" stroke-width="1.1" stroke-linecap="butt"/>
<line x1="222.76" y1="206.20" x2="222.76" y2="234.00" stroke="#0a2cff" stroke-width="1.1" stroke-linecap="butt"/>
<line x1="219.46" y1="206.20" x2="226.06" y2="206.20" stroke="#0a2cff" stroke-width="1.1" stroke-linecap="butt"/>
<line x1="219.46" y1="234.00" x2="226.06" y2="234.00" stroke="#0a2cff" stroke-width="1.1" stroke-linecap="butt"/>
<polyline points="58.60,313.30 59.42,313.30 60.24,313.30 61.06,313.30 61.88,313.30 62.70,313.30 63.52,313.30 64.35,313.30 65.17,313.30 65.99,313.30 66.81,313.30 67.63,313.30 68.45,313.30 69.27,313.30 70.09,313.30 70.91,313.30 71.73,313.30 72.55,313.30 73.37,313.30 74.20,313.30 75.02,313.30 75.84,313.30 76.66,313.30 77.48,313.30 78.30,313.30 79.12,313.30 79.94,313.30 80.76,313.30 81.58,313.30 82.40,313.30 83.22,313.30 84.04,313.30 84.87,313.30 85.69,313.30 86.51,313.30 87.33,313.30 88.15,313.30 88.97,313.30 89.79,313.30 90.61,313.30 91.43,313.30 92.25,313.30 93.07,313.30 93.89,313.30 94.72,313.30 95.54,313.30 96.36,313.30 97.18,313.30 98.00,313.30 98.82,313.30 99.64,313.30 100.46,313.30 101.28,313.30 102.10,313.30 102.92,313.30 103.74,313.30 104.56,313.30 105.39,313.30 106.21,313.30 107.03,313.30 107.85,313.30 108.67,313.30 109.49,313.30 110.31,313.30 111.13,313.30 111.95,313.30 112.77,313.30 113.59,313.30 114.41,313.30 115.24,313.30 116.06,313.30 116.88,313.30 117.70,313.30 118.52,313.30 119.34,313.30 120.16,313.30 120.98,313.30 121.80,313.30 122.62,313.30 123.44,313.29 124.26,313.29 125.08,313.29 125.91,313.29 126.73,313.29 127.55,313.29 128.37,313.29 129.19,313.29 130.01,313.29 130.83,313.29 131.65,313.28 132.47,313.28 133.29,313.28 134.11,313.28 134.93,313.27 135.76,313.27 136.58,313.27 137.40,313.26 138.22,313.26 139.04,313.25 139.86,313.24 140.68,313.24 141.50,313.23 142.32,313.22 143.14,313.21 143.96,313.20 144.78,313.19 145.60,313.17 146.43,313.16 147.25,313.14 148.07,313.12 148.89,313.09 149.71,313.07 150.53,313.04 151.35,313.01 152.17,312.97 152.99,312.93 153.81,312.88 154.63,312.83 155.45,312.77 156.28,312.70 157.10,312.63 157.92,312.54 158.74,312.45 159.56,312.34 160.38,312.22 161.20,312.08 162.02,311.93 162.84,311.76 163.66,311.57 164.48,311.36 165.30,311.12 166.12,310.85 166.95,310.55 167.77,310.21 168.59,309.84 169.41,309.42 170.23,308.95 171.05,308.44 171.87,307.86 172.69,307.23 173.51,306.52 174.33,305.75 175.15,304.89 175.97,303.95 176.80,302.92 177.62,301.80 178.44,300.58 179.26,299.25 180.08,297.82 180.90,296.28 181.72,294.64 182.54,292.89 183.36,291.03 184.18,289.08 185.00,287.04 185.82,284.91 186.64,282.71 187.47,280.46 188.29,278.16 189.11,275.83 189.93,273.49 190.75,271.15 191.57,268.84 192.39,266.56 193.21,264.33 194.03,262.17 194.85,260.08 195.67,258.08 196.49,256.18 197.32,254.37 198.14,252.68 198.96,251.09 199.78,249.60 200.60,248.23 201.42,246.95 202.24,245.78 203.06,244.71 203.88,243.72 204.70,242.83 205.52,242.01 206.34,241.27 207.16,240.60 207.99,240.00 208.81,239.45 209.63,238.96 210.45,238.52 211.27,238.13 212.09,237.77 212.91,237.46 213.73,237.17 214.55,236.92 215.37,236.69 216.19,236.49 217.01,236.31 217.84,236.15 218.66,236.01 219.48,235.88 220.30,235.77 221.12,235.67 221.94,235.58 222.76,235.50" fill="none" stroke="#0a2cff" stroke-width="1.5"/>
<circle cx="58.60" cy="312.70" r="3.5" fill="#0a2cff"/>
<circle cx="136.36" cy="300.70" r="3.5" fill="#0a2cff"/>
<circle cx="145.00" cy="313.50" r="3.5" fill="#0a2cff"/>
<circle cx="153.64" cy="312.50" r="3.5" fill="#0a2cff"/>
<circle cx="162.28" cy="315.80" r="3.5" fill="#0a2cff"/>
<circle cx="170.92" cy="312.00" r="3.5" fill="#0a2cff"/>
<circle cx="179.56" cy="301.80" r="3.5" fill="#0a2cff"/>
<circle cx="188.20" cy="277.90" r="3.5" fill="#0a2cff"/>
<circle cx="196.84" cy="253.60" r="3.5" fill="#0a2cff"/>
<circle cx="205.48" cy="247.70" r="3.5" fill="#0a2cff"/>
<circle cx="214.12" cy="246.30" r="3.5" fill="#0a2cff"/>
<circle cx="222.76" cy="220.10" r="3.5" fill="#0a2cff"/>
<line x1="296.00" y1="29.10" x2="296.00" y2="143.70" stroke="#111" stroke-width="1.5" stroke-linecap="butt"/>
<line x1="291.20" y1="29.85" x2="296.00" y2="29.85" stroke="#111" stroke-width="1.5" stroke-linecap="butt"/>
<text x="269.95" y="33.06" font-family="Liberation Sans" font-weight="bold" font-size="10.30" text-anchor="start" fill="#111" text-rendering="geometricPrecision" stroke="#000" stroke-width="0.25" >0.22</text>
<line x1="291.20" y1="52.47" x2="296.00" y2="52.47" stroke="#111" stroke-width="1.5" stroke-linecap="butt"/>
<text x="269.95" y="55.68" font-family="Liberation Sans" font-weight="bold" font-size="10.30" text-anchor="start" fill="#111" text-rendering="geometricPrecision" stroke="#000" stroke-width="0.25" >0.20</text>
<line x1="291.20" y1="75.09" x2="296.00" y2="75.09" stroke="#111" stroke-width="1.5" stroke-linecap="butt"/>
<text x="269.95" y="78.30" font-family="Liberation Sans" font-weight="bold" font-size="10.30" text-anchor="start" fill="#111" text-rendering="geometricPrecision" stroke="#000" stroke-width="0.25" >0. 8</text>
<path transform="translate(278.543,78.298) scale(0.005029,-0.005029)" d="M478,0L478,1170L140,959L140,1180L493,1409L759,1409L759,0Z" fill="#111" stroke="#000" stroke-width="49.7"/>
<line x1="291.20" y1="97.71" x2="296.00" y2="97.71" stroke="#111" stroke-width="1.5" stroke-linecap="butt"/>
<text x="269.95" y="100.92" font-family="Liberation Sans" font-weight="bold" font-size="10.30" text-anchor="start" fill="#111" text-rendering="geometricPrecision" stroke="#000" stroke-width="0.25" >0. 6</text>
<path transform="translate(278.543,100.918) scale(0.005029,-0.005029)" d="M478,0L478,1170L140,959L140,1180L493,1409L759,1409L759,0Z" fill="#111" stroke="#000" stroke-width="49.7"/>
<line x1="291.20" y1="120.33" x2="296.00" y2="120.33" stroke="#111" stroke-width="1.5" stroke-linecap="butt"/>
<text x="269.95" y="123.54" font-family="Liberation Sans" font-weight="bold" font-size="10.30" text-anchor="start" fill="#111" text-rendering="geometricPrecision" stroke="#000" stroke-width="0.25" >0. 4</text>
<path transform="translate(278.543,123.538) scale(0.005029,-0.005029)" d="M478,0L478,1170L140,959L140,1180L493,1409L759,1409L759,0Z" fill="#111" stroke="#000" stroke-width="49.7"/>
<line x1="291.20" y1="142.95" x2="296.00" y2="142.95" stroke="#111" stroke-width="1.5" stroke-linecap="butt"/>
<text x="269.95" y="146.16" font-family="Liberation Sans" font-weight="bold" font-size="10.30" text-anchor="start" fill="#111" text-rendering="geometricPrecision" stroke="#000" stroke-width="0.25" >0. 2</text>
<path transform="translate(278.543,146.158) scale(0.005029,-0.005029)" d="M478,0L478,1170L140,959L140,1180L493,1409L759,1409L759,0Z" fill="#111" stroke="#000" stroke-width="49.7"/>
<line x1="307.50" y1="154.50" x2="378.60" y2="154.50" stroke="#111" stroke-width="1.5" stroke-linecap="butt"/>
<line x1="327.70" y1="154.50" x2="327.70" y2="159.20" stroke="#111" stroke-width="1.5" stroke-linecap="butt"/>
<line x1="358.40" y1="154.50" x2="358.40" y2="159.20" stroke="#111" stroke-width="1.5" stroke-linecap="butt"/>
<line x1="326.30" y1="167.85" x2="329.50" y2="167.85" stroke="#111" stroke-width="1.5" stroke-linecap="butt"/>
<line x1="355.65" y1="166.95" x2="360.85" y2="166.95" stroke="#111" stroke-width="1.5" stroke-linecap="butt"/>
<line x1="358.25" y1="164.35" x2="358.25" y2="169.55" stroke="#111" stroke-width="1.5" stroke-linecap="butt"/>
<line x1="327.70" y1="45.90" x2="327.70" y2="88.30" stroke="#111" stroke-width="1.3" stroke-linecap="butt"/>
<line x1="327.70" y1="119.00" x2="327.70" y2="123.60" stroke="#111" stroke-width="1.3" stroke-linecap="butt"/>
<line x1="322.45" y1="45.90" x2="332.95" y2="45.90" stroke="#111" stroke-width="1.3" stroke-linecap="butt"/>
<line x1="322.45" y1="123.60" x2="332.95" y2="123.60" stroke="#111" stroke-width="1.3" stroke-linecap="butt"/>
<rect x="317.95" y="88.30" width="19.50" height="30.70" fill="none" stroke="#111" stroke-width="1.3"/>
<line x1="317.95" y1="113.50" x2="337.45" y2="113.50" stroke="#111" stroke-width="1.3" stroke-linecap="butt"/>
<line x1="358.40" y1="64.90" x2="358.40" y2="91.20" stroke="#111" stroke-width="1.3" stroke-linecap="butt"/>
<line x1="358.40" y1="126.30" x2="358.40" y2="133.30" stroke="#111" stroke-width="1.3" stroke-linecap="butt"/>
<line x1="353.15" y1="64.90" x2="363.65" y2="64.90" stroke="#111" stroke-width="1.3" stroke-linecap="butt"/>
<line x1="353.15" y1="133.30" x2="363.65" y2="133.30" stroke="#111" stroke-width="1.3" stroke-linecap="butt"/>
<rect x="348.65" y="91.20" width="19.50" height="35.10" fill="none" stroke="#111" stroke-width="1.3"/>
<line x1="348.65" y1="116.60" x2="368.15" y2="116.60" stroke="#111" stroke-width="1.3" stroke-linecap="butt"/>
<text x="236.86" y="9.73" font-family="Liberation Serif" font-weight="bold" font-size="14.700" fill="#111" text-rendering="geometricPrecision" stroke="#000" stroke-width="0.25">B</text>
<text x="250.18" y="168.95" font-family="Liberation Sans" font-weight="bold" font-size="10.002" fill="#111" text-rendering="geometricPrecision" stroke="#000" stroke-width="0.25">As<tspan font-size="8.20" dy="3.20">2</tspan><tspan dy="-3.20">O</tspan><tspan font-size="8.20" dy="3.20">3</tspan><tspan dy="-3.20"> , AD</tspan></text>
<text transform="translate(259.62,113.38) rotate(-90) scale(1,0.9713862063442803)" font-family="Liberation Sans" font-weight="bold" font-size="10.501" fill="#111" text-rendering="geometricPrecision" stroke="#000" stroke-width="0.25">Basal BRET</text>
<text x="352.13" y="29.51" font-family="Liberation Sans" font-weight="bold" font-size="10.846" fill="#111" text-rendering="geometricPrecision" stroke="#000" stroke-width="0.25">ns</text>
<line x1="350.90" y1="34.70" x2="366.00" y2="34.70" stroke="#111" stroke-width="1.5" stroke-linecap="butt"/>
<line x1="444.90" y1="28.35" x2="444.90" y2="143.65" stroke="#111" stroke-width="1.5" stroke-linecap="butt"/>
<line x1="440.20" y1="29.10" x2="444.90" y2="29.10" stroke="#111" stroke-width="1.5" stroke-linecap="butt"/>
<text x="424.88" y="32.31" font-family="Liberation Sans" font-weight="bold" font-size="10.30" text-anchor="start" fill="#111" text-rendering="geometricPrecision" stroke="#000" stroke-width="0.25" >5.5</text>
<line x1="440.20" y1="51.86" x2="444.90" y2="51.86" stroke="#111" stroke-width="1.5" stroke-linecap="butt"/>
<text x="424.88" y="55.07" font-family="Liberation Sans" font-weight="bold" font-size="10.30" text-anchor="start" fill="#111" text-rendering="geometricPrecision" stroke="#000" stroke-width="0.25" >5.0</text>
<line x1="440.20" y1="74.62" x2="444.90" y2="74.62" stroke="#111" stroke-width="1.5" stroke-linecap="butt"/>
<text x="424.88" y="77.83" font-family="Liberation Sans" font-weight="bold" font-size="10.30" text-anchor="start" fill="#111" text-rendering="geometricPrecision" stroke="#000" stroke-width="0.25" >4.5</text>
<line x1="440.20" y1="97.38" x2="444.90" y2="97.38" stroke="#111" stroke-width="1.5" stroke-linecap="butt"/>
<text x="424.88" y="100.59" font-family="Liberation Sans" font-weight="bold" font-size="10.30" text-anchor="start" fill="#111" text-rendering="geometricPrecision" stroke="#000" stroke-width="0.25" >4.0</text>
<line x1="440.20" y1="120.14" x2="444.90" y2="120.14" stroke="#111" stroke-width="1.5" stroke-linecap="butt"/>
<text x="424.88" y="123.35" font-family="Liberation Sans" font-weight="bold" font-size="10.30" text-anchor="start" fill="#111" text-rendering="geometricPrecision" stroke="#000" stroke-width="0.25" >3.5</text>
<line x1="440.20" y1="142.90" x2="444.90" y2="142.90" stroke="#111" stroke-width="1.5" stroke-linecap="butt"/>
<text x="424.88" y="146.11" font-family="Liberation Sans" font-weight="bold" font-size="10.30" text-anchor="start" fill="#111" text-rendering="geometricPrecision" stroke="#000" stroke-width="0.25" >3.0</text>
<line x1="456.80" y1="154.70" x2="528.40" y2="154.70" stroke="#111" stroke-width="1.5" stroke-linecap="butt"/>
<line x1="477.00" y1="154.70" x2="477.00" y2="159.40" stroke="#111" stroke-width="1.5" stroke-linecap="butt"/>
<line x1="507.60" y1="154.70" x2="507.60" y2="159.40" stroke="#111" stroke-width="1.5" stroke-linecap="butt"/>
<line x1="475.60" y1="166.90" x2="478.80" y2="166.90" stroke="#111" stroke-width="1.5" stroke-linecap="butt"/>
<line x1="505.15" y1="166.05" x2="510.35" y2="166.05" stroke="#111" stroke-width="1.5" stroke-linecap="butt"/>
<line x1="507.75" y1="163.45" x2="507.75" y2="168.65" stroke="#111" stroke-width="1.5" stroke-linecap="butt"/>
<line x1="477.10" y1="49.80" x2="477.10" y2="60.70" stroke="#111" stroke-width="1.3" stroke-linecap="butt"/>
<line x1="477.10" y1="77.50" x2="477.10" y2="78.60" stroke="#111" stroke-width="1.3" stroke-linecap="butt"/>
<line x1="471.85" y1="49.80" x2="482.35" y2="49.80" stroke="#111" stroke-width="1.3" stroke-linecap="butt"/>
<line x1="471.85" y1="78.60" x2="482.35" y2="78.60" stroke="#111" stroke-width="1.3" stroke-linecap="butt"/>
<rect x="467.35" y="60.70" width="19.50" height="16.80" fill="none" stroke="#111" stroke-width="1.3"/>
<line x1="467.35" y1="66.20" x2="486.85" y2="66.20" stroke="#111" stroke-width="1.3" stroke-linecap="butt"/>
<line x1="507.90" y1="72.80" x2="507.90" y2="77.00" stroke="#111" stroke-width="1.3" stroke-linecap="butt"/>
<line x1="507.90" y1="109.70" x2="507.90" y2="119.60" stroke="#111" stroke-width="1.3" stroke-linecap="butt"/>
<line x1="502.65" y1="72.80" x2="513.15" y2="72.80" stroke="#111" stroke-width="1.3" stroke-linecap="butt"/>
<line x1="502.65" y1="119.60" x2="513.15" y2="119.60" stroke="#111" stroke-width="1.3" stroke-linecap="butt"/>
<rect x="498.30" y="77.00" width="19.20" height="32.70" fill="none" stroke="#111" stroke-width="1.3"/>
<line x1="498.30" y1="93.10" x2="517.50" y2="93.10" stroke="#111" stroke-width="1.3" stroke-linecap="butt"/>
<text x="393.66" y="9.95" font-family="Liberation Serif" font-weight="bold" font-size="14.700" fill="#111" text-rendering="geometricPrecision" stroke="#000" stroke-width="0.25">C</text>
<text x="397.63" y="168.65" font-family="Liberation Sans" font-weight="bold" font-size="10.026" fill="#111" text-rendering="geometricPrecision" stroke="#000" stroke-width="0.25">As<tspan font-size="8.22" dy="3.21">2</tspan><tspan dy="-3.21">O</tspan><tspan font-size="8.22" dy="3.21">3</tspan><tspan dy="-3.21"> , AD</tspan></text>
<text transform="translate(407.45,98.42) rotate(-90) scale(1,1.0)" font-family="Liberation Sans" font-weight="bold" font-size="10.064" fill="#111" text-rendering="geometricPrecision" stroke="#000" stroke-width="0.25">pEC<tspan font-size="8.66" dy="3.22">50</tspan></text>
<line x1="503.70" y1="22.35" x2="503.70" y2="29.35" stroke="#111" stroke-width="1.7" stroke-linecap="butt"/>
<line x1="500.67" y1="24.10" x2="506.73" y2="27.60" stroke="#111" stroke-width="1.7" stroke-linecap="butt"/>
<line x1="506.73" y1="24.10" x2="500.67" y2="27.60" stroke="#111" stroke-width="1.7" stroke-linecap="butt"/>
<circle cx="503.70" cy="25.85" r="1.5" fill="#111"/>
<line x1="511.60" y1="22.35" x2="511.60" y2="29.35" stroke="#111" stroke-width="1.7" stroke-linecap="butt"/>
<line x1="508.57" y1="24.10" x2="514.63" y2="27.60" stroke="#111" stroke-width="1.7" stroke-linecap="butt"/>
<line x1="514.63" y1="24.10" x2="508.57" y2="27.60" stroke="#111" stroke-width="1.7" stroke-linecap="butt"/>
<circle cx="511.60" cy="25.85" r="1.5" fill="#111"/>
<line x1="500.00" y1="33.50" x2="515.70" y2="33.50" stroke="#111" stroke-width="1.5" stroke-linecap="butt"/>
<line x1="600.00" y1="35.65" x2="600.00" y2="143.70" stroke="#111" stroke-width="1.5" stroke-linecap="butt"/>
<line x1="595.70" y1="36.40" x2="600.00" y2="36.40" stroke="#111" stroke-width="1.5" stroke-linecap="butt"/>
<text x="574.65" y="39.61" font-family="Liberation Sans" font-weight="bold" font-size="10.30" text-anchor="start" fill="#111" text-rendering="geometricPrecision" stroke="#000" stroke-width="0.25" >0. 0</text>
<path transform="translate(583.243,39.608) scale(0.005029,-0.005029)" d="M478,0L478,1170L140,959L140,1180L493,1409L759,1409L759,0Z" fill="#111" stroke="#000" stroke-width="49.7"/>
<line x1="595.70" y1="57.71" x2="600.00" y2="57.71" stroke="#111" stroke-width="1.5" stroke-linecap="butt"/>
<text x="574.65" y="60.92" font-family="Liberation Sans" font-weight="bold" font-size="10.30" text-anchor="start" fill="#111" text-rendering="geometricPrecision" stroke="#000" stroke-width="0.25" >0.08</text>
<line x1="595.70" y1="79.02" x2="600.00" y2="79.02" stroke="#111" stroke-width="1.5" stroke-linecap="butt"/>
<text x="574.65" y="82.23" font-family="Liberation Sans" font-weight="bold" font-size="10.30" text-anchor="start" fill="#111" text-rendering="geometricPrecision" stroke="#000" stroke-width="0.25" >0.06</text>
<line x1="595.70" y1="100.33" x2="600.00" y2="100.33" stroke="#111" stroke-width="1.5" stroke-linecap="butt"/>
<text x="574.65" y="103.54" font-family="Liberation Sans" font-weight="bold" font-size="10.30" text-anchor="start" fill="#111" text-rendering="geometricPrecision" stroke="#000" stroke-width="0.25" >0.04</text>
<line x1="595.70" y1="121.64" x2="600.00" y2="121.64" stroke="#111" stroke-width="1.5" stroke-linecap="butt"/>
<text x="574.65" y="124.85" font-family="Liberation Sans" font-weight="bold" font-size="10.30" text-anchor="start" fill="#111" text-rendering="geometricPrecision" stroke="#000" stroke-width="0.25" >0.02</text>
<line x1="595.70" y1="142.95" x2="600.00" y2="142.95" stroke="#111" stroke-width="1.5" stroke-linecap="butt"/>
<text x="574.65" y="146.16" font-family="Liberation Sans" font-weight="bold" font-size="10.30" text-anchor="start" fill="#111" text-rendering="geometricPrecision" stroke="#000" stroke-width="0.25" >0.00</text>
<line x1="611.20" y1="153.80" x2="678.40" y2="153.80" stroke="#111" stroke-width="1.5" stroke-linecap="butt"/>
<line x1="629.80" y1="153.80" x2="629.80" y2="158.50" stroke="#111" stroke-width="1.5" stroke-linecap="butt"/>
<line x1="658.90" y1="153.80" x2="658.90" y2="158.50" stroke="#111" stroke-width="1.5" stroke-linecap="butt"/>
<line x1="628.80" y1="165.80" x2="632.00" y2="165.80" stroke="#111" stroke-width="1.5" stroke-linecap="butt"/>
<line x1="656.40" y1="164.90" x2="661.60" y2="164.90" stroke="#111" stroke-width="1.5" stroke-linecap="butt"/>
<line x1="659.00" y1="162.30" x2="659.00" y2="167.50" stroke="#111" stroke-width="1.5" stroke-linecap="butt"/>
<line x1="630.00" y1="44.60" x2="630.00" y2="47.10" stroke="#111" stroke-width="1.3" stroke-linecap="butt"/>
<line x1="630.00" y1="84.90" x2="630.00" y2="107.30" stroke="#111" stroke-width="1.3" stroke-linecap="butt"/>
<line x1="624.75" y1="44.60" x2="635.25" y2="44.60" stroke="#111" stroke-width="1.3" stroke-linecap="butt"/>
<line x1="624.75" y1="107.30" x2="635.25" y2="107.30" stroke="#111" stroke-width="1.3" stroke-linecap="butt"/>
<rect x="620.65" y="47.10" width="18.70" height="37.80" fill="none" stroke="#111" stroke-width="1.3"/>
<line x1="620.65" y1="58.30" x2="639.35" y2="58.30" stroke="#111" stroke-width="1.3" stroke-linecap="butt"/>
<line x1="659.10" y1="59.40" x2="659.10" y2="74.90" stroke="#111" stroke-width="1.3" stroke-linecap="butt"/>
<line x1="659.10" y1="112.40" x2="659.10" y2="118.20" stroke="#111" stroke-width="1.3" stroke-linecap="butt"/>
<line x1="653.85" y1="59.40" x2="664.35" y2="59.40" stroke="#111" stroke-width="1.3" stroke-linecap="butt"/>
<line x1="653.85" y1="118.20" x2="664.35" y2="118.20" stroke="#111" stroke-width="1.3" stroke-linecap="butt"/>
<rect x="650.20" y="74.90" width="17.80" height="37.50" fill="none" stroke="#111" stroke-width="1.3"/>
<line x1="650.20" y1="96.00" x2="668.00" y2="96.00" stroke="#111" stroke-width="1.3" stroke-linecap="butt"/>
<text x="545.29" y="9.83" font-family="Liberation Serif" font-weight="bold" font-size="14.700" fill="#111" text-rendering="geometricPrecision" stroke="#000" stroke-width="0.25">D</text>
<text x="545.82" y="167.70" font-family="Liberation Sans" font-weight="bold" font-size="9.610" fill="#111" text-rendering="geometricPrecision" stroke="#000" stroke-width="0.25">As<tspan font-size="7.88" dy="3.08">2</tspan><tspan dy="-3.08">O</tspan><tspan font-size="7.88" dy="3.08">3</tspan><tspan dy="-3.08"> , AD</tspan></text>
<text transform="translate(569.87,124.65) rotate(-90) scale(1,1.0)" font-family="Liberation Sans" font-weight="bold" font-size="9.768" fill="#111" text-rendering="geometricPrecision" stroke="#000" stroke-width="0.25">Maximal Efficacy</text>
<line x1="659.25" y1="20.70" x2="659.25" y2="27.30" stroke="#111" stroke-width="1.7" stroke-linecap="butt"/>
<line x1="656.39" y1="22.35" x2="662.11" y2="25.65" stroke="#111" stroke-width="1.7" stroke-linecap="butt"/>
<line x1="662.11" y1="22.35" x2="656.39" y2="25.65" stroke="#111" stroke-width="1.7" stroke-linecap="butt"/>
<circle cx="659.25" cy="24.00" r="1.5" fill="#111"/>
<line x1="653.00" y1="31.30" x2="665.70" y2="31.30" stroke="#111" stroke-width="1.5" stroke-linecap="butt"/>
<line x1="295.80" y1="230.55" x2="295.80" y2="340.00" stroke="#111" stroke-width="1.5" stroke-linecap="butt"/>
<line x1="291.20" y1="231.30" x2="295.80" y2="231.30" stroke="#111" stroke-width="1.5" stroke-linecap="butt"/>
<text x="270.05" y="234.47" font-family="Liberation Sans" font-weight="bold" font-size="10.20" text-anchor="start" fill="#111" text-rendering="geometricPrecision" stroke="#000" stroke-width="0.25" >0. 6</text>
<path transform="translate(278.554,234.472) scale(0.004980,-0.004980)" d="M478,0L478,1170L140,959L140,1180L493,1409L759,1409L759,0Z" fill="#111" stroke="#000" stroke-width="50.2"/>
<line x1="291.20" y1="267.28" x2="295.80" y2="267.28" stroke="#111" stroke-width="1.5" stroke-linecap="butt"/>
<text x="270.05" y="270.46" font-family="Liberation Sans" font-weight="bold" font-size="10.20" text-anchor="start" fill="#111" text-rendering="geometricPrecision" stroke="#000" stroke-width="0.25" >0. 4</text>
<path transform="translate(278.554,270.455) scale(0.004980,-0.004980)" d="M478,0L478,1170L140,959L140,1180L493,1409L759,1409L759,0Z" fill="#111" stroke="#000" stroke-width="50.2"/>
<line x1="291.20" y1="303.27" x2="295.80" y2="303.27" stroke="#111" stroke-width="1.5" stroke-linecap="butt"/>
<text x="270.05" y="306.44" font-family="Liberation Sans" font-weight="bold" font-size="10.20" text-anchor="start" fill="#111" text-rendering="geometricPrecision" stroke="#000" stroke-width="0.25" >0. 2</text>
<path transform="translate(278.554,306.439) scale(0.004980,-0.004980)" d="M478,0L478,1170L140,959L140,1180L493,1409L759,1409L759,0Z" fill="#111" stroke="#000" stroke-width="50.2"/>
<line x1="291.20" y1="339.25" x2="295.80" y2="339.25" stroke="#111" stroke-width="1.5" stroke-linecap="butt"/>
<text x="270.05" y="342.42" font-family="Liberation Sans" font-weight="bold" font-size="10.20" text-anchor="start" fill="#111" text-rendering="geometricPrecision" stroke="#000" stroke-width="0.25" >0. 0</text>
<path transform="translate(278.554,342.422) scale(0.004980,-0.004980)" d="M478,0L478,1170L140,959L140,1180L493,1409L759,1409L759,0Z" fill="#111" stroke="#000" stroke-width="50.2"/>
<line x1="307.00" y1="352.10" x2="375.90" y2="352.10" stroke="#111" stroke-width="1.5" stroke-linecap="butt"/>
<line x1="326.60" y1="352.10" x2="326.60" y2="356.80" stroke="#111" stroke-width="1.5" stroke-linecap="butt"/>
<line x1="356.20" y1="352.10" x2="356.20" y2="356.80" stroke="#111" stroke-width="1.5" stroke-linecap="butt"/>
<line x1="325.25" y1="366.90" x2="328.45" y2="366.90" stroke="#111" stroke-width="1.5" stroke-linecap="butt"/>
<line x1="353.80" y1="365.85" x2="359.00" y2="365.85" stroke="#111" stroke-width="1.5" stroke-linecap="butt"/>
<line x1="356.40" y1="363.25" x2="356.40" y2="368.45" stroke="#111" stroke-width="1.5" stroke-linecap="butt"/>
<line x1="326.70" y1="240.30" x2="326.70" y2="252.30" stroke="#111" stroke-width="1.3" stroke-linecap="butt"/>
<line x1="326.70" y1="313.20" x2="326.70" y2="324.10" stroke="#111" stroke-width="1.3" stroke-linecap="butt"/>
<line x1="321.45" y1="240.30" x2="331.95" y2="240.30" stroke="#111" stroke-width="1.3" stroke-linecap="butt"/>
<line x1="321.45" y1="324.10" x2="331.95" y2="324.10" stroke="#111" stroke-width="1.3" stroke-linecap="butt"/>
<rect x="317.30" y="252.30" width="18.80" height="60.90" fill="none" stroke="#111" stroke-width="1.3"/>
<line x1="317.30" y1="291.30" x2="336.10" y2="291.30" stroke="#111" stroke-width="1.3" stroke-linecap="butt"/>
<line x1="356.60" y1="261.90" x2="356.60" y2="271.50" stroke="#111" stroke-width="1.3" stroke-linecap="butt"/>
<line x1="356.60" y1="317.20" x2="356.60" y2="322.20" stroke="#111" stroke-width="1.3" stroke-linecap="butt"/>
<line x1="351.35" y1="261.90" x2="361.85" y2="261.90" stroke="#111" stroke-width="1.3" stroke-linecap="butt"/>
<line x1="351.35" y1="322.20" x2="361.85" y2="322.20" stroke="#111" stroke-width="1.3" stroke-linecap="butt"/>
<rect x="347.55" y="271.50" width="18.10" height="45.70" fill="none" stroke="#111" stroke-width="1.3"/>
<line x1="347.55" y1="299.30" x2="365.65" y2="299.30" stroke="#111" stroke-width="1.3" stroke-linecap="butt"/>
<text x="246.86" y="199.83" font-family="Liberation Serif" font-weight="bold" font-size="14.700" fill="#111" text-rendering="geometricPrecision" stroke="#000" stroke-width="0.25">F</text>
<text x="243.18" y="366.72" font-family="Liberation Sans" font-weight="bold" font-size="9.799" fill="#111" text-rendering="geometricPrecision" stroke="#000" stroke-width="0.25">As<tspan font-size="8.04" dy="3.14">2</tspan><tspan dy="-3.14">O</tspan><tspan font-size="8.04" dy="3.14">3</tspan><tspan dy="-3.14"> , AD</tspan></text>
<text transform="translate(264.75,309.36) rotate(-90) scale(1,0.9709636918538761)" font-family="Liberation Sans" font-weight="bold" font-size="10.060" fill="#111" text-rendering="geometricPrecision" stroke="#000" stroke-width="0.25">Basal BRET</text>
<text x="350.10" y="227.69" font-family="Liberation Sans" font-weight="bold" font-size="10.596" fill="#111" text-rendering="geometricPrecision" stroke="#000" stroke-width="0.25">ns</text>
<line x1="348.80" y1="232.60" x2="363.90" y2="232.60" stroke="#111" stroke-width="1.5" stroke-linecap="butt"/>
<line x1="443.80" y1="223.05" x2="443.80" y2="344.10" stroke="#111" stroke-width="1.5" stroke-linecap="butt"/>
<line x1="439.10" y1="223.80" x2="443.80" y2="223.80" stroke="#111" stroke-width="1.5" stroke-linecap="butt"/>
<text x="422.98" y="226.81" font-family="Liberation Sans" font-weight="bold" font-size="10.30" text-anchor="start" fill="#111" text-rendering="geometricPrecision" stroke="#000" stroke-width="0.25" >5.0</text>
<line x1="439.10" y1="263.65" x2="443.80" y2="263.65" stroke="#111" stroke-width="1.5" stroke-linecap="butt"/>
<text x="422.98" y="266.66" font-family="Liberation Sans" font-weight="bold" font-size="10.30" text-anchor="start" fill="#111" text-rendering="geometricPrecision" stroke="#000" stroke-width="0.25" >4.5</text>
<line x1="439.10" y1="303.50" x2="443.80" y2="303.50" stroke="#111" stroke-width="1.5" stroke-linecap="butt"/>
<text x="422.98" y="306.51" font-family="Liberation Sans" font-weight="bold" font-size="10.30" text-anchor="start" fill="#111" text-rendering="geometricPrecision" stroke="#000" stroke-width="0.25" >4.0</text>
<line x1="439.10" y1="343.35" x2="443.80" y2="343.35" stroke="#111" stroke-width="1.5" stroke-linecap="butt"/>
<text x="422.98" y="346.36" font-family="Liberation Sans" font-weight="bold" font-size="10.30" text-anchor="start" fill="#111" text-rendering="geometricPrecision" stroke="#000" stroke-width="0.25" >3.5</text>
<line x1="452.00" y1="352.20" x2="528.90" y2="352.20" stroke="#111" stroke-width="1.5" stroke-linecap="butt"/>
<line x1="474.20" y1="352.20" x2="474.20" y2="356.90" stroke="#111" stroke-width="1.5" stroke-linecap="butt"/>
<line x1="507.00" y1="352.20" x2="507.00" y2="356.90" stroke="#111" stroke-width="1.5" stroke-linecap="butt"/>
<line x1="472.70" y1="364.90" x2="475.90" y2="364.90" stroke="#111" stroke-width="1.5" stroke-linecap="butt"/>
<line x1="504.30" y1="364.00" x2="509.50" y2="364.00" stroke="#111" stroke-width="1.5" stroke-linecap="butt"/>
<line x1="506.90" y1="361.40" x2="506.90" y2="366.60" stroke="#111" stroke-width="1.5" stroke-linecap="butt"/>
<line x1="474.20" y1="232.00" x2="474.20" y2="245.40" stroke="#111" stroke-width="1.3" stroke-linecap="butt"/>
<line x1="474.20" y1="299.50" x2="474.20" y2="306.40" stroke="#111" stroke-width="1.3" stroke-linecap="butt"/>
<line x1="468.95" y1="232.00" x2="479.45" y2="232.00" stroke="#111" stroke-width="1.3" stroke-linecap="butt"/>
<line x1="468.95" y1="306.40" x2="479.45" y2="306.40" stroke="#111" stroke-width="1.3" stroke-linecap="butt"/>
<rect x="463.70" y="245.40" width="21.00" height="54.10" fill="none" stroke="#111" stroke-width="1.3"/>
<line x1="463.70" y1="261.30" x2="484.70" y2="261.30" stroke="#111" stroke-width="1.3" stroke-linecap="butt"/>
<line x1="507.20" y1="255.70" x2="507.20" y2="269.40" stroke="#111" stroke-width="1.3" stroke-linecap="butt"/>
<line x1="507.20" y1="297.30" x2="507.20" y2="328.50" stroke="#111" stroke-width="1.3" stroke-linecap="butt"/>
<line x1="501.95" y1="255.70" x2="512.45" y2="255.70" stroke="#111" stroke-width="1.3" stroke-linecap="butt"/>
<line x1="501.95" y1="328.50" x2="512.45" y2="328.50" stroke="#111" stroke-width="1.3" stroke-linecap="butt"/>
<rect x="496.70" y="269.40" width="21.00" height="27.90" fill="none" stroke="#111" stroke-width="1.3"/>
<line x1="496.70" y1="284.90" x2="517.70" y2="284.90" stroke="#111" stroke-width="1.3" stroke-linecap="butt"/>
<text x="397.63" y="200.00" font-family="Liberation Serif" font-weight="bold" font-size="14.700" fill="#111" text-rendering="geometricPrecision" stroke="#000" stroke-width="0.25">G</text>
<text x="397.87" y="366.77" font-family="Liberation Sans" font-weight="bold" font-size="10.410" fill="#111" text-rendering="geometricPrecision" stroke="#000" stroke-width="0.25">As<tspan font-size="8.54" dy="3.33">2</tspan><tspan dy="-3.33">O</tspan><tspan font-size="8.54" dy="3.33">3</tspan><tspan dy="-3.33"> , AD</tspan></text>
<text transform="translate(408.30,296.11) rotate(-90) scale(1,1.0)" font-family="Liberation Sans" font-weight="bold" font-size="10.230" fill="#111" text-rendering="geometricPrecision" stroke="#000" stroke-width="0.25">pEC<tspan font-size="8.80" dy="3.27">50</tspan></text>
<text x="500.90" y="215.69" font-family="Liberation Sans" font-weight="bold" font-size="10.585" fill="#111" text-rendering="geometricPrecision" stroke="#000" stroke-width="0.25">ns</text>
<line x1="498.30" y1="220.80" x2="515.60" y2="220.80" stroke="#111" stroke-width="1.5" stroke-linecap="butt"/>
<line x1="602.30" y1="228.05" x2="602.30" y2="341.55" stroke="#111" stroke-width="1.5" stroke-linecap="butt"/>
<line x1="598.00" y1="228.80" x2="602.30" y2="228.80" stroke="#111" stroke-width="1.5" stroke-linecap="butt"/>
<text x="576.35" y="231.81" font-family="Liberation Sans" font-weight="bold" font-size="10.30" text-anchor="start" fill="#111" text-rendering="geometricPrecision" stroke="#000" stroke-width="0.25" >0.08</text>
<line x1="598.00" y1="256.80" x2="602.30" y2="256.80" stroke="#111" stroke-width="1.5" stroke-linecap="butt"/>
<text x="576.35" y="259.81" font-family="Liberation Sans" font-weight="bold" font-size="10.30" text-anchor="start" fill="#111" text-rendering="geometricPrecision" stroke="#000" stroke-width="0.25" >0.06</text>
<line x1="598.00" y1="284.80" x2="602.30" y2="284.80" stroke="#111" stroke-width="1.5" stroke-linecap="butt"/>
<text x="576.35" y="287.81" font-family="Liberation Sans" font-weight="bold" font-size="10.30" text-anchor="start" fill="#111" text-rendering="geometricPrecision" stroke="#000" stroke-width="0.25" >0.04</text>
<line x1="598.00" y1="312.80" x2="602.30" y2="312.80" stroke="#111" stroke-width="1.5" stroke-linecap="butt"/>
<text x="576.35" y="315.81" font-family="Liberation Sans" font-weight="bold" font-size="10.30" text-anchor="start" fill="#111" text-rendering="geometricPrecision" stroke="#000" stroke-width="0.25" >0.02</text>
<line x1="598.00" y1="340.80" x2="602.30" y2="340.80" stroke="#111" stroke-width="1.5" stroke-linecap="butt"/>
<text x="576.35" y="343.81" font-family="Liberation Sans" font-weight="bold" font-size="10.30" text-anchor="start" fill="#111" text-rendering="geometricPrecision" stroke="#000" stroke-width="0.25" >0.00</text>
<line x1="613.90" y1="352.10" x2="686.00" y2="352.10" stroke="#111" stroke-width="1.5" stroke-linecap="butt"/>
<line x1="633.90" y1="352.10" x2="633.90" y2="356.80" stroke="#111" stroke-width="1.5" stroke-linecap="butt"/>
<line x1="664.60" y1="352.10" x2="664.60" y2="356.80" stroke="#111" stroke-width="1.5" stroke-linecap="butt"/>
<line x1="632.85" y1="364.35" x2="636.05" y2="364.35" stroke="#111" stroke-width="1.5" stroke-linecap="butt"/>
<line x1="661.90" y1="363.65" x2="667.10" y2="363.65" stroke="#111" stroke-width="1.5" stroke-linecap="butt"/>
<line x1="664.50" y1="361.05" x2="664.50" y2="366.25" stroke="#111" stroke-width="1.5" stroke-linecap="butt"/>
<line x1="634.10" y1="231.20" x2="634.10" y2="241.00" stroke="#111" stroke-width="1.3" stroke-linecap="butt"/>
<line x1="634.10" y1="283.30" x2="634.10" y2="294.20" stroke="#111" stroke-width="1.3" stroke-linecap="butt"/>
<line x1="628.85" y1="231.20" x2="639.35" y2="231.20" stroke="#111" stroke-width="1.3" stroke-linecap="butt"/>
<line x1="628.85" y1="294.20" x2="639.35" y2="294.20" stroke="#111" stroke-width="1.3" stroke-linecap="butt"/>
<rect x="624.70" y="241.00" width="18.80" height="42.30" fill="none" stroke="#111" stroke-width="1.3"/>
<line x1="624.70" y1="256.30" x2="643.50" y2="256.30" stroke="#111" stroke-width="1.3" stroke-linecap="butt"/>
<line x1="664.50" y1="261.80" x2="664.50" y2="271.30" stroke="#111" stroke-width="1.3" stroke-linecap="butt"/>
<line x1="664.50" y1="306.40" x2="664.50" y2="313.10" stroke="#111" stroke-width="1.3" stroke-linecap="butt"/>
<line x1="659.25" y1="261.80" x2="669.75" y2="261.80" stroke="#111" stroke-width="1.3" stroke-linecap="butt"/>
<line x1="659.25" y1="313.10" x2="669.75" y2="313.10" stroke="#111" stroke-width="1.3" stroke-linecap="butt"/>
<rect x="654.90" y="271.30" width="19.20" height="35.10" fill="none" stroke="#111" stroke-width="1.3"/>
<line x1="654.90" y1="291.30" x2="674.10" y2="291.30" stroke="#111" stroke-width="1.3" stroke-linecap="butt"/>
<text x="548.83" y="199.83" font-family="Liberation Serif" font-weight="bold" font-size="14.700" fill="#111" text-rendering="geometricPrecision" stroke="#000" stroke-width="0.25">H</text>
<text x="549.43" y="364.99" font-family="Liberation Sans" font-weight="bold" font-size="9.902" fill="#111" text-rendering="geometricPrecision" stroke="#000" stroke-width="0.25">As<tspan font-size="8.12" dy="3.17">2</tspan><tspan dy="-3.17">O</tspan><tspan font-size="8.12" dy="3.17">3</tspan><tspan dy="-3.17"> , AD</tspan></text>
<text transform="translate(569.48,323.45) rotate(-90) scale(1,1.0)" font-family="Liberation Sans" font-weight="bold" font-size="10.273" fill="#111" text-rendering="geometricPrecision" stroke="#000" stroke-width="0.25">Maximal Efficacy</text>
<line x1="664.95" y1="218.50" x2="664.95" y2="225.50" stroke="#111" stroke-width="1.7" stroke-linecap="butt"/>
<line x1="661.92" y1="220.25" x2="667.98" y2="223.75" stroke="#111" stroke-width="1.7" stroke-linecap="butt"/>
<line x1="667.98" y1="220.25" x2="661.92" y2="223.75" stroke="#111" stroke-width="1.7" stroke-linecap="butt"/>
<circle cx="664.95" cy="222.00" r="1.5" fill="#111"/>
<line x1="659.00" y1="229.65" x2="671.10" y2="229.65" stroke="#111" stroke-width="1.5" stroke-linecap="butt"/>
</svg></body></html>
